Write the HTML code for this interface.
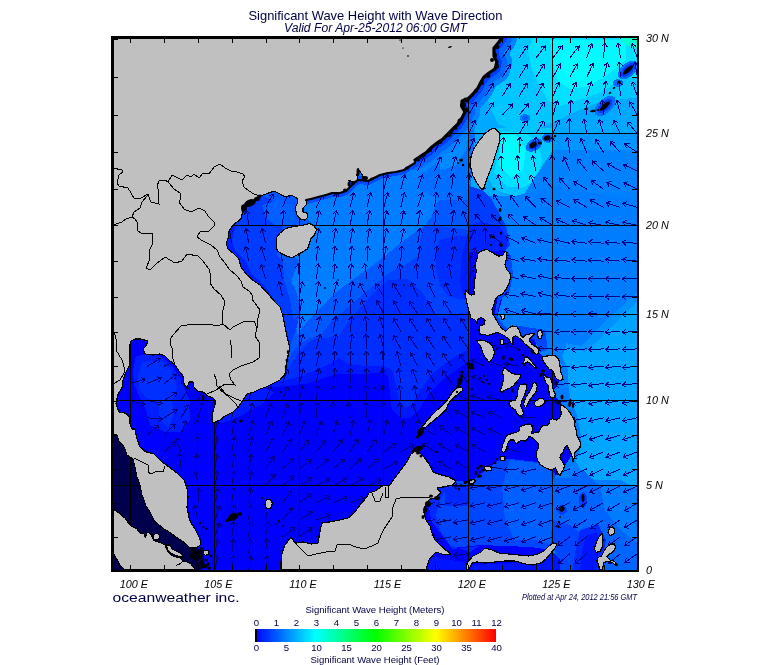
<!DOCTYPE html>
<html><head><meta charset="utf-8"><title>Significant Wave Height with Wave Direction</title><style>html,body{margin:0;padding:0;background:#fff}</style></head><body>
<svg width="775" height="665" viewBox="0 0 775 665" style="display:block">
<rect width="775" height="665" fill="#fff"/>
<defs><clipPath id="fr"><rect x="112" y="37" width="526" height="534"/></clipPath>
<linearGradient id="cb" x1="0" x2="1" y1="0" y2="0">
<stop offset="0" stop-color="#0000ff"/>
<stop offset="0.125" stop-color="#0080ff"/>
<stop offset="0.25" stop-color="#00ffff"/>
<stop offset="0.375" stop-color="#00ff80"/>
<stop offset="0.5" stop-color="#00ff00"/>
<stop offset="0.625" stop-color="#80ff00"/>
<stop offset="0.75" stop-color="#ffff00"/>
<stop offset="0.875" stop-color="#ff8000"/>
<stop offset="1" stop-color="#ff0000"/>
</linearGradient></defs>
<g clip-path="url(#fr)" shape-rendering="crispEdges">
<rect x="112" y="37" width="526" height="534" fill="rgb(0,0,255)"/>
<polygon points="268.0,388.0 285.0,386.0 305.0,384.0 325.0,378.0 335.0,374.0 349.0,374.0 365.0,374.0 383.0,372.0 388.0,376.0 390.0,392.0 392.0,410.0 400.0,418.0 410.0,418.0 420.0,408.0 430.0,392.0 445.0,378.0 462.0,366.0 470.0,360.0 470.0,120.0 220.0,120.0 220.0,392.0" fill="rgb(0,24,255)"/>
<polygon points="277.0,382.0 295.0,378.0 305.0,374.0 313.0,371.0 323.0,367.0 331.0,363.0 339.0,358.0 349.0,364.0 365.0,366.0 383.0,366.0 392.0,370.0 396.0,385.0 399.0,400.0 405.0,408.0 412.0,404.0 420.0,390.0 432.0,374.0 447.0,362.0 470.0,348.0 470.0,120.0 220.0,120.0 220.0,382.0" fill="rgb(0,46,255)"/>
<polygon points="287.0,372.0 289.0,368.0 295.0,358.0 303.0,348.0 312.0,340.0 325.0,338.0 339.0,336.0 343.0,330.0 349.7,320.0 357.4,311.0 365.0,302.0 375.6,291.0 388.0,280.0 408.0,279.0 421.0,291.0 430.0,305.0 437.0,316.0 445.0,316.0 455.0,314.0 470.0,312.0 470.0,120.0 220.0,120.0 220.0,372.0" fill="rgb(0,66,255)"/>
<polygon points="287.0,362.0 292.0,352.0 300.0,344.0 310.0,338.0 320.0,336.0 327.7,326.0 339.0,314.7 350.0,305.6 360.0,296.6 373.0,286.0 385.0,276.0 397.0,268.0 410.0,262.0 418.0,256.0 420.0,240.0 424.0,226.0 440.0,226.0 470.0,230.0 470.0,120.0 220.0,120.0 220.0,362.0" fill="rgb(0,88,255)"/>
<polygon points="298.0,196.0 420.0,150.0 475.0,125.0 475.0,185.0 440.0,200.0 436.0,203.0 432.0,216.0 423.0,227.0 410.0,236.0 397.0,246.0 385.0,256.0 368.0,269.0 352.0,280.0 339.0,290.0 328.0,300.0 317.0,311.0 308.0,320.0 300.5,330.0 298.0,336.0 295.0,322.0 290.0,310.0 290.0,289.0 293.0,276.0 299.0,260.0 292.0,256.0 305.0,250.0 312.0,232.0 316.0,226.0 310.0,222.0 306.0,216.0 300.0,210.0" fill="rgb(0,126,255)"/>
<polygon points="440.0,240.0 456.0,236.0 468.0,236.0 476.0,240.0 478.0,252.0 472.0,295.0 460.0,300.0 448.0,296.0 440.0,285.0 436.0,270.0 436.0,252.0" fill="rgb(0,46,255)"/>
<polygon points="468.0,232.0 478.0,240.0 478.0,252.0 474.0,296.0 464.0,300.0 460.0,280.0 462.0,255.0" fill="rgb(0,30,255)"/>
<polygon points="226.0,200.0 262.0,196.0 272.0,200.0 282.0,212.0 283.0,228.0 276.0,240.0 277.0,256.0 283.0,262.0 289.0,280.0 295.0,288.0 299.0,300.0 300.0,313.0 296.0,330.0 290.0,345.0 284.0,346.0 270.0,300.0 250.0,285.0 226.0,255.0" fill="rgb(0,60,255)"/>
<polygon points="283.0,262.0 289.0,280.0 295.0,288.0 299.0,300.0 300.0,313.0 294.0,320.0 290.0,300.0 284.0,280.0" fill="rgb(0,85,255)"/>
<polygon points="226.0,215.0 240.0,210.0 236.0,225.0 232.0,240.0 236.0,252.0 246.0,262.0 252.0,275.0 262.0,283.0 272.0,296.0 268.0,300.0 250.0,285.0 226.0,255.0" fill="rgb(0,30,255)"/>
<polygon points="262.0,205.0 280.0,200.0 292.0,205.0 296.0,218.0 290.0,226.0 276.0,226.0 266.0,218.0" fill="rgb(0,95,255)"/>
<polygon points="440.0,36.0 640.0,36.0 640.0,135.0 553.0,133.0 553.0,200.0 470.0,200.0 470.0,170.0 475.0,125.0 468.0,112.0 480.0,90.0 495.0,60.0 502.0,36.0" fill="rgb(0,168,255)"/>
<polygon points="420.0,150.0 445.0,132.0 462.0,112.0 470.0,118.0 475.0,135.0 472.0,165.0 470.0,200.0 440.0,200.0 420.0,190.0" fill="rgb(0,110,255)"/>
<polygon points="440.0,152.0 452.0,141.0 462.0,129.0 469.0,133.0 466.0,150.0 456.0,166.0 440.0,170.0" fill="rgb(0,138,255)"/>
<polygon points="512.0,38.0 640.0,38.0 640.0,97.0 600.0,102.0 575.0,112.0 553.0,122.0 535.0,130.0 515.0,131.0 498.0,124.0 492.0,112.0 488.0,100.0 496.0,82.0 504.0,62.0" fill="rgb(0,198,255)"/>
<polygon points="533.0,38.0 640.0,38.0 640.0,76.0 622.0,79.0 600.0,93.0 575.0,101.0 560.0,106.0 548.0,101.0 540.0,86.0 532.0,70.0 528.0,50.0" fill="rgb(0,225,255)"/>
<polygon points="550.0,40.0 626.0,40.0 626.0,60.0 610.0,73.0 590.0,86.0 570.0,89.0 558.0,81.0 553.0,62.0" fill="rgb(0,250,255)"/>
<polygon points="563.0,56.0 585.0,51.0 600.0,59.0 595.0,72.0 578.0,83.0 566.0,76.0" fill="rgb(0,255,255)"/>
<polygon points="618.0,38.0 638.0,38.0 638.0,48.0 628.0,46.0" fill="rgb(0,255,210)"/>
<polygon points="496.0,128.0 553.0,128.0 553.0,175.0 540.0,190.0 515.0,196.0 495.0,190.0 488.0,178.0 498.0,150.0" fill="rgb(0,198,255)"/>
<polygon points="498.0,132.0 522.0,132.0 537.0,140.0 542.0,160.0 537.0,180.0 522.0,188.0 506.0,186.0 494.0,172.0 499.0,150.0" fill="rgb(0,225,255)"/>
<polygon points="501.0,135.0 516.0,135.0 526.0,150.0 523.0,170.0 511.0,178.0 499.0,166.0 500.0,150.0" fill="rgb(0,252,255)"/>
<polygon points="553.0,133.0 640.0,133.0 640.0,200.0 553.0,200.0" fill="rgb(0,150,255)"/>
<polygon points="553.0,150.0 640.0,150.0 640.0,215.0 553.0,215.0 520.0,200.0" fill="rgb(0,130,255)"/>
<polygon points="478.0,196.0 515.0,196.0 540.0,190.0 553.0,186.0 640.0,200.0 640.0,572.0 553.0,572.0 553.0,480.0 557.0,472.0 562.0,470.0 572.0,455.0 577.0,440.0 572.0,420.0 565.0,408.0 556.0,397.0 553.0,392.0 560.0,380.0 556.0,370.0 545.0,358.0 538.0,352.0 535.0,340.0 520.0,333.0 505.0,331.0 497.0,318.0 503.0,295.0 510.0,275.0 505.0,245.0 495.0,240.0 480.0,225.0" fill="rgb(0,125,255)"/>
<polygon points="469.0,186.0 482.0,190.0 492.0,200.0 500.0,215.0 506.0,226.0 510.0,245.0 506.0,250.0 478.0,250.0 469.0,240.0" fill="rgb(0,60,255)"/>
<polygon points="469.0,226.0 480.0,222.0 500.0,226.0 508.0,240.0 506.0,250.0 478.0,252.0 469.0,250.0" fill="rgb(0,35,255)"/>
<polygon points="469.0,252.0 478.0,252.0 476.0,296.0 469.0,296.0" fill="rgb(0,0,255)"/>
<polygon points="505.0,250.0 511.0,256.0 513.0,275.0 510.0,290.0 500.0,300.0 497.0,316.0 506.0,328.0 520.0,326.0 545.0,330.0 548.0,350.0 540.0,352.0 535.0,340.0 520.0,336.0 505.0,334.0 494.0,318.0 498.0,296.0" fill="rgb(0,70,255)"/>
<polygon points="640.0,298.0 605.0,334.0 585.0,352.0 566.0,347.0 562.0,356.0 568.0,370.0 567.5,378.0 570.0,397.0 577.0,415.0 581.0,435.0 580.0,452.0 575.0,460.0 581.0,470.0 595.0,480.0 620.0,480.0 640.0,490.0" fill="rgb(0,165,255)"/>
<polygon points="640.0,290.0 600.0,326.0 582.0,346.0 566.0,343.0 566.0,347.0 585.0,352.0 605.0,334.0 640.0,298.0" fill="rgb(0,145,255)"/>
<polygon points="553.0,478.0 572.0,478.0 584.0,470.0 590.0,478.0 600.0,485.0 640.0,500.0 640.0,572.0 600.0,572.0 590.0,540.0 570.0,525.0 553.0,520.0" fill="rgb(0,100,255)"/>
<polygon points="441.0,483.0 456.0,481.0 470.0,482.0 502.0,458.0 537.0,462.0 545.0,468.0 557.0,474.0 553.0,480.0 553.0,520.0 570.0,525.0 590.0,540.0 596.0,572.0 553.0,572.0 556.0,545.0 545.0,549.0 530.0,547.0 480.0,545.0 452.0,548.0 432.0,522.0 428.0,502.0" fill="rgb(0,70,255)"/>
<polygon points="502.0,486.0 510.0,460.0 537.0,463.0 551.0,472.0 553.0,490.0 551.0,544.0 535.0,540.0 515.0,540.0 505.0,520.0" fill="rgb(0,95,255)"/>
<polygon points="428.0,500.0 441.0,483.0 448.0,486.0 440.0,500.0 436.0,515.0 440.0,530.0 450.0,545.0 470.0,552.0 480.0,546.0 452.0,549.0 432.0,522.0" fill="rgb(0,40,255)"/>
<polygon points="430.0,556.0 467.0,563.0 469.0,572.0 426.0,572.0" fill="rgb(0,20,255)"/>
<polygon points="472.0,565.0 545.0,562.0 553.0,552.0 560.0,560.0 560.0,572.0 470.0,572.0" fill="rgb(0,20,255)"/>
<polygon points="580.0,530.0 598.0,524.0 606.0,540.0 600.0,572.0 572.0,572.0 576.0,548.0" fill="rgb(0,40,255)"/>
<polygon points="586.0,536.0 597.0,532.0 600.0,545.0 596.0,572.0 580.0,572.0 582.0,550.0" fill="rgb(0,20,255)"/>
<polygon points="600.0,485.0 640.0,495.0 640.0,545.0 620.0,530.0 605.0,510.0" fill="rgb(0,125,255)"/>
<polygon points="445.0,488.0 470.0,484.0 470.0,506.0 445.0,506.0" fill="rgb(0,40,255)"/>
<polygon points="136.0,356.0 150.0,354.0 162.0,357.0 172.0,366.0 180.0,378.0 186.0,392.0 190.0,402.0 190.0,420.0 180.0,432.0 165.0,432.0 150.0,425.0 146.0,410.0 140.0,398.0 134.0,385.0 133.0,370.0" fill="rgb(0,30,255)"/>
<polygon points="142.0,362.0 160.0,360.0 172.0,372.0 177.0,388.0 172.0,400.0 174.0,415.0 168.0,428.0 160.0,420.0 158.0,402.0 146.0,398.0 139.0,388.0 138.0,375.0" fill="rgb(0,48,255)"/>
<polygon points="214.0,402.0 240.0,398.0 262.0,388.0 275.0,392.0 262.0,404.0 240.0,416.0 220.0,424.0" fill="rgb(0,25,255)"/>
<polygon points="614.7,97.3 615.7,100.4 614.7,104.6 611.7,109.1 607.4,113.0 602.6,115.5 598.3,116.1 595.3,114.7 594.3,111.6 595.3,107.4 598.3,102.9 602.6,99.0 607.4,96.5 611.7,95.9" fill="rgb(0,110,255)"/>
<polygon points="611.7,100.0 612.3,102.0 611.5,104.9 609.4,107.9 606.4,110.6 603.2,112.4 600.3,112.9 598.3,112.0 597.7,110.0 598.5,107.1 600.6,104.1 603.6,101.4 606.8,99.6 609.7,99.1" fill="rgb(0,60,255)"/>
<polygon points="636.9,62.0 638.1,65.0 637.2,69.1 634.6,73.3 630.6,76.9 626.1,79.1 622.0,79.5 619.1,78.0 617.9,75.0 618.8,70.9 621.4,66.7 625.4,63.1 629.9,60.9 634.0,60.5" fill="rgb(0,110,255)"/>
<polygon points="634.7,64.0 635.3,66.0 634.5,68.9 632.4,71.9 629.4,74.6 626.2,76.4 623.3,76.9 621.3,76.0 620.7,74.0 621.5,71.1 623.6,68.1 626.6,65.4 629.8,63.6 632.7,63.1" fill="rgb(0,60,255)"/>
<polygon points="623.0,83.0 622.5,84.7 621.1,86.1 619.1,86.9 616.9,86.9 614.9,86.1 613.5,84.7 613.0,83.0 613.5,81.3 614.9,79.9 616.9,79.1 619.1,79.1 621.1,79.9 622.5,81.3" fill="rgb(0,110,255)"/>
<polygon points="541.8,140.5 542.3,143.2 541.2,146.3 538.7,149.1 535.2,151.1 531.5,151.9 528.3,151.3 526.2,149.5 525.7,146.8 526.8,143.7 529.3,140.9 532.8,138.9 536.5,138.1 539.7,138.7" fill="rgb(0,110,255)"/>
<polygon points="539.2,142.0 539.5,143.8 538.8,145.8 537.1,147.7 534.8,149.0 532.3,149.6 530.2,149.2 528.8,148.0 528.5,146.2 529.2,144.2 530.9,142.3 533.2,141.0 535.7,140.4 537.8,140.8" fill="rgb(0,60,255)"/>
<polygon points="554.0,138.0 553.4,140.2 551.7,141.9 549.3,142.9 546.7,142.9 544.3,141.9 542.6,140.2 542.0,138.0 542.6,135.8 544.3,134.1 546.7,133.1 549.3,133.1 551.7,134.1 553.4,135.8" fill="rgb(0,110,255)"/>
<polygon points="552.0,138.0 551.6,139.3 550.5,140.3 548.9,140.9 547.1,140.9 545.5,140.3 544.4,139.3 544.0,138.0 544.4,136.7 545.5,135.7 547.1,135.1 548.9,135.1 550.5,135.7 551.6,136.7" fill="rgb(0,70,255)"/>
<polygon points="530.0,118.0 529.5,119.7 528.1,121.1 526.1,121.9 523.9,121.9 521.9,121.1 520.5,119.7 520.0,118.0 520.5,116.3 521.9,114.9 523.9,114.1 526.1,114.1 528.1,114.9 529.5,116.3" fill="rgb(0,120,255)"/>
<polygon points="528.0,118.0 527.7,119.1 526.9,120.0 525.7,120.4 524.3,120.4 523.1,120.0 522.3,119.1 522.0,118.0 522.3,116.9 523.1,116.0 524.3,115.6 525.7,115.6 526.9,116.0 527.7,116.9" fill="rgb(0,90,255)"/>
<polygon points="587.0,500.0 586.6,503.5 585.5,506.3 583.9,507.8 582.1,507.8 580.5,506.3 579.4,503.5 579.0,500.0 579.4,496.5 580.5,493.7 582.1,492.2 583.9,492.2 585.5,493.7 586.6,496.5" fill="rgb(0,60,255)"/>
<polygon points="567.0,510.0 566.5,512.2 565.1,513.9 563.1,514.9 560.9,514.9 558.9,513.9 557.5,512.2 557.0,510.0 557.5,507.8 558.9,506.1 560.9,505.1 563.1,505.1 565.1,506.1 566.5,507.8" fill="rgb(0,60,255)"/>
<polyline points="502.0,38.0 499.0,42.0 494.0,48.0 494.0,56.0 497.0,62.0 495.0,69.0 489.0,73.0 484.0,77.0 481.0,82.0 478.0,88.0 473.0,94.0 468.0,99.0 462.0,101.0 462.0,107.0 465.0,112.0 462.0,118.0 458.0,124.0 453.0,129.0 448.0,134.0 443.0,139.0 437.0,143.0 432.0,147.0 427.0,152.0 421.0,156.0 415.0,160.0" fill="none" stroke="rgb(0,130,255)" stroke-width="30" stroke-linejoin="round" stroke-linecap="round"/>
<polyline points="502.0,38.0 499.0,42.0 494.0,48.0 494.0,56.0 497.0,62.0 495.0,69.0 489.0,73.0 484.0,77.0 481.0,82.0 478.0,88.0 473.0,94.0 468.0,99.0 462.0,101.0 462.0,107.0 465.0,112.0 462.0,118.0 458.0,124.0 453.0,129.0 448.0,134.0 443.0,139.0 437.0,143.0 432.0,147.0 427.0,152.0 421.0,156.0 415.0,160.0" fill="none" stroke="rgb(0,100,255)" stroke-width="20" stroke-linejoin="round" stroke-linecap="round"/>
<polyline points="502.0,38.0 499.0,42.0 494.0,48.0 494.0,56.0 497.0,62.0 495.0,69.0 489.0,73.0 484.0,77.0 481.0,82.0 478.0,88.0 473.0,94.0 468.0,99.0 462.0,101.0 462.0,107.0 465.0,112.0 462.0,118.0 458.0,124.0 453.0,129.0 448.0,134.0 443.0,139.0 437.0,143.0 432.0,147.0 427.0,152.0 421.0,156.0 415.0,160.0" fill="none" stroke="rgb(0,60,255)" stroke-width="10" stroke-linejoin="round" stroke-linecap="round"/>
<polyline points="415.0,163.0 410.0,166.0 404.0,170.0 396.0,172.0 388.0,173.0 380.0,175.0 374.0,178.0 368.0,181.0 358.0,180.0 354.0,183.0 350.0,187.0 346.0,191.0 340.0,193.0 332.0,193.0 326.0,195.0 318.0,197.0 311.0,199.0 306.0,200.0" fill="none" stroke="rgb(0,75,255)" stroke-width="8" stroke-linejoin="round" stroke-linecap="round"/>
<polygon points="113.0,430.0 125.0,438.0 132.0,450.0 140.0,462.0 145.0,480.0 150.0,497.0 157.0,512.0 165.0,526.0 177.0,534.0 189.0,543.0 199.0,549.0 204.0,548.0 204.0,560.0 201.0,572.0 150.0,572.0 150.0,545.0 130.0,530.0 113.0,515.0" fill="#00004c"/>
<polygon points="111.0,550.0 116.0,558.0 120.0,565.0 126.0,572.0 111.0,572.0" fill="#00004c"/>
</g>
<g clip-path="url(#fr)">
<path d="M130.4 400.6L145.1 404.3M142.1 400.6L145.1 404.3L140.7 406.1M130.4 383.4L145.0 379.2M140.5 377.6L145.0 379.2L142.1 383.0M147.3 434.9L159.0 425.1M154.2 425.4L159.0 425.1L157.8 429.8M147.3 417.8L162.5 419.0M158.8 415.9L162.5 419.0L158.4 421.5M147.3 400.6L162.3 403.2M158.9 399.8L162.3 403.2L158.0 405.3M147.3 383.4L161.4 377.7M156.7 376.6L161.4 377.7L158.8 381.8M147.3 366.2L160.4 358.5M155.7 358.1L160.4 358.5L158.5 362.9M164.2 451.9L175.6 441.8M170.8 442.3L175.6 441.8L174.5 446.5M164.2 434.9L175.1 424.2M170.3 424.9L175.1 424.2L174.3 429.0M164.2 417.8L177.1 409.7M172.3 409.4L177.1 409.7L175.3 414.2M164.2 400.6L176.9 392.3M172.1 392.1L176.9 392.3L175.2 396.8M164.2 383.4L176.4 374.3M171.6 374.4L176.4 374.3L174.9 378.9M164.2 366.2L177.9 359.6M173.2 358.7L177.9 359.6L175.6 363.8M181.1 468.9L179.4 453.8M177.0 458.0L179.4 453.8L182.6 457.3M181.1 451.9L175.6 437.7M174.4 442.4L175.6 437.7L179.7 440.3M181.1 434.9L185.8 420.4M181.9 423.2L185.8 420.4L187.3 425.0M181.1 417.8L188.9 404.7M184.4 406.6L188.9 404.7L189.3 409.5M181.1 400.6L189.1 387.7M184.7 389.5L189.1 387.7L189.5 392.5M181.1 383.4L190.8 371.8M186.2 372.9L190.8 371.8L190.5 376.5M198.0 519.8L194.3 505.0M192.5 509.5L194.3 505.0L197.9 508.1M198.0 502.8L198.7 487.7M195.7 491.4L198.7 487.7L201.3 491.7M198.0 485.9L195.7 470.9M193.5 475.1L195.7 470.9L199.1 474.3M198.0 468.9L196.7 453.8M194.2 457.9L196.7 453.8L199.8 457.4M198.0 451.9L197.4 436.7M194.7 440.7L197.4 436.7L200.4 440.5M198.0 434.9L197.4 419.7M194.7 423.7L197.4 419.7L200.4 423.4M198.0 417.8L202.5 403.3M198.7 406.1L202.5 403.3L204.0 407.8M198.0 400.6L204.2 386.8M200.1 389.2L204.2 386.8L205.2 391.5M214.9 570.5L217.4 555.5M214.0 558.9L217.4 555.5L219.5 559.8M214.9 553.6L217.5 538.6M214.1 542.0L217.5 538.6L219.6 542.9M214.9 536.7L219.8 522.3M215.8 525.1L219.8 522.3L221.2 526.9M214.9 519.8L219.8 505.4M215.9 508.2L219.8 505.4L221.2 510.0M214.9 502.8L218.8 488.2M215.1 491.2L218.8 488.2L220.5 492.6M214.9 485.9L217.7 471.0M214.2 474.3L217.7 471.0L219.7 475.3M214.9 468.9L217.0 453.9M213.7 457.3L217.0 453.9L219.3 458.1M214.9 451.9L216.9 436.8M213.6 440.3L216.9 436.8L219.2 441.1M214.9 434.9L217.0 419.8M213.7 423.3L217.0 419.8L219.3 424.0M231.8 570.5L233.8 555.4M230.5 558.9L233.8 555.4L236.1 559.7M231.8 553.6L233.2 538.5M230.0 542.1L233.2 538.5L235.7 542.6M231.8 536.7L233.9 521.6M230.6 525.1L233.9 521.6L236.2 525.9M231.8 519.8L234.0 504.7M230.7 508.2L234.0 504.7L236.3 509.0M231.8 502.8L234.0 487.8M230.7 491.2L234.0 487.8L236.2 492.1M231.8 485.9L234.0 470.9M230.6 474.3L234.0 470.9L236.2 475.1M231.8 468.9L234.4 453.9M231.0 457.3L234.4 453.9L236.5 458.3M231.8 451.9L234.5 436.9M231.0 440.3L234.5 436.9L236.6 441.3M231.8 434.9L234.6 419.9M231.1 423.2L234.6 419.9L236.6 424.2M231.8 417.8L235.1 402.9M231.5 406.1L235.1 402.9L237.0 407.3M231.8 243.3L229.2 228.4M227.1 232.7L229.2 228.4L232.6 231.7M248.7 570.5L250.7 555.4M247.4 558.9L250.7 555.4L253.0 559.6M248.7 553.6L250.1 538.5M246.9 542.1L250.1 538.5L252.5 542.6M248.7 536.7L250.1 521.6M247.0 525.2L250.1 521.6L252.6 525.7M248.7 519.8L250.2 504.6M247.0 508.2L250.2 504.6L252.6 508.8M248.7 502.8L250.9 487.8M247.5 491.2L250.9 487.8L253.1 492.0M248.7 485.9L251.4 470.9M248.0 474.3L251.4 470.9L253.5 475.3M248.7 468.9L251.5 454.0M248.0 457.3L251.5 454.0L253.6 458.3M248.7 451.9L251.9 437.1M248.4 440.2L251.9 437.1L253.9 441.5M248.7 434.9L253.2 420.3M249.4 423.2L253.2 420.3L254.8 424.9M248.7 417.8L252.7 403.1M249.0 406.1L252.7 403.1L254.4 407.6M248.7 400.6L252.8 386.0M249.0 389.0L252.8 386.0L254.5 390.5M248.7 261.2L245.5 246.3M243.6 250.7L245.5 246.3L249.1 249.5M248.7 243.3L246.0 228.4M243.9 232.7L246.0 228.4L249.5 231.7M248.7 225.4L246.6 210.4M244.4 214.6L246.6 210.4L250.0 213.8M248.7 207.4L253.2 192.9M249.3 195.7L253.2 192.9L254.7 197.4M265.6 570.5L267.9 555.5M264.6 558.9L267.9 555.5L270.1 559.8M265.6 553.6L267.0 538.5M263.8 542.1L267.0 538.5L269.5 542.6M265.6 536.7L268.2 521.7M264.8 525.1L268.2 521.7L270.3 526.0M265.6 519.8L268.4 504.8M264.9 508.1L268.4 504.8L270.5 509.2M265.6 485.9L275.1 474.0M270.4 475.3L275.1 474.0L274.8 478.8M265.6 468.9L274.1 456.3M269.6 458.0L274.1 456.3L274.3 461.1M265.6 451.9L273.0 438.6M268.7 440.6L273.0 438.6L273.6 443.4M265.6 434.9L272.0 421.1M267.8 423.4L272.0 421.1L272.9 425.8M265.6 417.8L270.9 403.5M266.9 406.2L270.9 403.5L272.2 408.1M265.6 400.6L271.0 386.4M267.0 389.1L271.0 386.4L272.3 391.1M265.6 278.9L261.1 264.4M259.6 268.9L261.1 264.4L265.0 267.2M265.6 261.2L261.2 246.6M259.6 251.2L261.2 246.6L265.0 249.5M265.6 243.3L261.9 228.6M260.1 233.0L261.9 228.6L265.6 231.7M265.6 225.4L266.5 210.2M263.5 214.0L266.5 210.2L269.1 214.3M265.6 207.4L273.0 194.1M268.6 196.1L273.0 194.1L273.6 198.9M282.5 536.7L294.9 527.9M290.1 527.9L294.9 527.9L293.4 532.5M282.5 519.8L292.2 508.1M287.6 509.3L292.2 508.1L291.9 512.9M282.5 502.8L291.8 490.8M287.2 492.2L291.8 490.8L291.6 495.6M282.5 485.9L293.8 475.8M289.0 476.2L293.8 475.8L292.8 480.4M282.5 468.9L293.7 458.7M289.0 459.2L293.7 458.7L292.8 463.4M282.5 451.9L291.4 439.6M286.8 441.1L291.4 439.6L291.4 444.4M282.5 434.9L289.7 421.5M285.4 423.5L289.7 421.5L290.3 426.2M282.5 417.8L287.6 403.4M283.6 406.2L287.6 403.4L288.9 408.0M282.5 400.6L287.9 386.4M283.9 389.1L287.9 386.4L289.2 391.1M282.5 383.4L287.6 369.1M283.7 371.8L287.6 369.1L289.0 373.7M282.5 296.5L278.9 281.7M277.1 286.2L278.9 281.7L282.6 284.9M282.5 278.9L279.2 264.1M277.3 268.5L279.2 264.1L282.8 267.2M282.5 261.2L279.7 246.2M277.6 250.6L279.7 246.2L283.2 249.5M282.5 225.4L283.8 210.3M280.7 213.9L283.8 210.3L286.3 214.4M282.5 207.4L288.2 193.3M284.2 195.8L288.2 193.3L289.4 198.0M299.4 536.7L311.9 528.0M307.1 527.9L311.9 528.0L310.3 532.5M299.4 519.8L312.4 511.9M307.6 511.5L312.4 511.9L310.5 516.3M299.4 502.8L311.6 493.8M306.8 493.9L311.6 493.8L310.2 498.4M299.4 485.9L312.2 477.6M307.4 477.4L312.2 477.6L310.4 482.1M299.4 468.9L311.3 459.5M306.5 459.7L311.3 459.5L310.0 464.1M299.4 451.9L308.6 439.8M304.0 441.2L308.6 439.8L308.5 444.6M299.4 434.9L305.3 420.9M301.2 423.3L305.3 420.9L306.4 425.5M299.4 417.8L301.9 402.8M298.4 406.1L301.9 402.8L304.0 407.1M299.4 400.6L302.7 385.8M299.1 389.0L302.7 385.8L304.6 390.2M299.4 383.4L303.4 368.8M299.7 371.8L303.4 368.8L305.1 373.3M299.4 366.2L303.5 351.6M299.7 354.5L303.5 351.6L305.2 356.1M299.4 348.9L302.9 334.1M299.3 337.2L302.9 334.1L304.8 338.5M299.4 331.5L302.4 316.6M298.9 319.9L302.4 316.6L304.4 321.0M299.4 314.1L302.0 299.1M298.5 302.4L302.0 299.1L304.1 303.4M299.4 296.5L302.4 281.6M298.9 284.9L302.4 281.6L304.4 286.0M299.4 278.9L298.3 263.7M295.7 267.8L298.3 263.7L301.4 267.4M299.4 261.2L298.2 246.0M295.7 250.1L298.2 246.0L301.4 249.7M316.3 536.7L329.5 529.1M324.7 528.6L329.5 529.1L327.5 533.5M316.3 519.8L330.8 515.2M326.2 513.7L330.8 515.2L327.9 519.0M316.3 502.8L330.0 496.2M325.3 495.4L330.0 496.2L327.7 500.5M316.3 485.9L329.6 478.5M324.8 477.9L329.6 478.5L327.6 482.9M316.3 468.9L328.4 459.7M323.6 459.8L328.4 459.7L327.0 464.3M316.3 451.9L325.9 440.1M321.3 441.3L325.9 440.1L325.6 444.9M316.3 434.9L321.7 420.7M317.7 423.3L321.7 420.7L323.0 425.3M316.3 417.8L317.4 402.6M314.3 406.3L317.4 402.6L319.9 406.7M316.3 400.6L317.9 385.5M314.7 389.1L317.9 385.5L320.3 389.7M316.3 383.4L319.0 368.5M315.5 371.8L319.0 368.5L321.1 372.8M316.3 366.2L319.4 351.3M315.8 354.5L319.4 351.3L321.3 355.7M316.3 348.9L320.1 334.2M316.4 337.2L320.1 334.2L321.9 338.7M316.3 331.5L320.1 316.8M316.4 319.8L320.1 316.8L321.9 321.3M316.3 314.1L318.9 299.1M315.5 302.4L318.9 299.1L321.0 303.4M316.3 296.5L318.8 281.5M315.4 284.9L318.8 281.5L320.9 285.8M316.3 278.9L318.4 263.8M315.0 267.3L318.4 263.8L320.6 268.1M316.3 261.2L317.9 246.1M314.7 249.6L317.9 246.1L320.3 250.2M316.3 243.3L318.9 228.4M315.5 231.7L318.9 228.4L321.0 232.7M316.3 225.4L319.3 210.5M315.8 213.8L319.3 210.5L321.3 214.9M316.3 207.4L323.3 193.9M319.0 196.0L323.3 193.9L324.0 198.6M333.2 502.8L347.2 497.0M342.5 495.9L347.2 497.0L344.7 501.1M333.2 485.9L346.4 478.4M341.7 477.9L346.4 478.4L344.4 482.8M333.2 468.9L344.8 459.1M340.0 459.5L344.8 459.1L343.7 463.8M333.2 451.9L342.3 439.7M337.7 441.2L342.3 439.7L342.2 444.5M333.2 434.9L337.5 420.3M333.7 423.2L337.5 420.3L339.1 424.8M333.2 417.8L333.0 402.6M330.2 406.5L333.0 402.6L335.9 406.4M333.2 400.6L333.4 385.4M330.5 389.3L333.4 385.4L336.1 389.3M333.2 383.4L335.2 368.4M331.9 371.9L335.2 368.4L337.5 372.6M333.2 366.2L335.2 351.1M331.9 354.6L335.2 351.1L337.5 355.4M333.2 348.9L336.1 334.0M332.6 337.2L336.1 334.0L338.2 338.3M333.2 331.5L336.1 316.6M332.6 319.9L336.1 316.6L338.1 320.9M333.2 314.1L336.1 299.1M332.6 302.4L336.1 299.1L338.1 303.5M333.2 296.5L336.8 281.7M333.1 284.9L336.8 281.7L338.6 286.2M333.2 278.9L335.0 263.8M331.7 267.3L335.0 263.8L337.3 268.0M333.2 261.2L335.0 246.1M331.7 249.6L335.0 246.1L337.4 250.3M333.2 243.3L335.7 228.3M332.2 231.7L335.7 228.3L337.8 232.6M333.2 225.4L336.5 210.6M332.9 213.8L336.5 210.6L338.4 215.0M333.2 207.4L337.4 192.8M333.6 195.7L337.4 192.8L339.0 197.3M350.1 502.8L364.4 497.8M359.8 496.4L364.4 497.8L361.7 501.8M350.1 485.9L363.2 478.2M358.4 477.7L363.2 478.2L361.3 482.6M350.1 468.9L361.2 458.6M356.5 459.1L361.2 458.6L360.3 463.3M350.1 451.9L358.0 438.9M353.6 440.8L358.0 438.9L358.4 443.7M350.1 434.9L353.6 420.1M350.0 423.2L353.6 420.1L355.5 424.5M350.1 417.8L348.7 402.6M346.2 406.8L348.7 402.6L351.9 406.2M350.1 400.6L349.2 385.5M346.6 389.5L349.2 385.5L352.3 389.2M350.1 383.4L350.6 368.3M347.7 372.0L350.6 368.3L353.3 372.2M350.1 366.2L350.8 351.0M347.8 354.8L350.8 351.0L353.4 355.0M350.1 348.9L352.0 333.8M348.7 337.3L352.0 333.8L354.3 338.0M350.1 331.5L352.0 316.4M348.7 319.9L352.0 316.4L354.3 320.6M350.1 314.1L351.1 298.9M348.1 302.6L351.1 298.9L353.7 303.0M350.1 296.5L352.5 281.5M349.1 284.9L352.5 281.5L354.7 285.8M350.1 278.9L351.4 263.7M348.2 267.4L351.4 263.7L353.9 267.9M350.1 261.2L352.2 246.1M348.9 249.6L352.2 246.1L354.4 250.3M350.1 243.3L352.6 228.3M349.2 231.7L352.6 228.3L354.7 232.6M350.1 225.4L352.9 210.5M349.4 213.8L352.9 210.5L355.0 214.8M350.1 207.4L354.0 192.7M350.3 195.7L354.0 192.7L355.7 197.2M367.0 485.9L380.7 479.3M376.0 478.4L380.7 479.3L378.4 483.5M367.0 468.9L378.8 459.3M374.0 459.6L378.8 459.3L377.5 463.9M367.0 451.9L376.0 439.6M371.4 441.1L376.0 439.6L376.0 444.4M367.0 434.9L370.6 420.1M366.9 423.2L370.6 420.1L372.4 424.5M367.0 417.8L365.4 402.7M363.0 406.8L365.4 402.7L368.6 406.2M367.0 400.6L365.4 385.5M363.0 389.7L365.4 385.5L368.6 389.1M367.0 383.4L366.6 368.3M363.9 372.2L366.6 368.3L369.5 372.1M367.0 366.2L366.2 351.0M363.6 355.1L366.2 351.0L369.2 354.7M367.0 348.9L365.7 333.7M363.2 337.9L365.7 333.7L368.9 337.4M367.0 331.5L365.6 316.4M363.2 320.5L365.6 316.4L368.8 320.0M367.0 314.1L361.5 299.9M360.3 304.5L361.5 299.9L365.5 302.5M367.0 296.5L359.3 283.4M358.8 288.2L359.3 283.4L363.7 285.3M367.0 278.9L364.8 263.9M362.5 268.1L364.8 263.9L368.1 267.3M367.0 261.2L367.8 246.0M364.8 249.7L367.8 246.0L370.4 250.0M367.0 243.3L369.5 228.4M366.1 231.7L369.5 228.4L371.7 232.7M367.0 225.4L369.6 210.4M366.2 213.8L369.6 210.4L371.7 214.7M367.0 207.4L370.7 192.6M367.0 195.7L370.7 192.6L372.5 197.1M367.0 189.2L370.8 174.5M367.1 177.5L370.8 174.5L372.6 179.0M383.9 468.9L397.4 461.9M392.6 461.2L397.4 461.9L395.2 466.2M383.9 451.9L396.2 443.0M391.4 443.0L396.2 443.0L394.7 447.6M383.9 434.9L387.4 420.1M383.8 423.2L387.4 420.1L389.2 424.5M383.9 417.8L383.1 402.6M380.5 406.6L383.1 402.6L386.2 406.3M383.9 400.6L382.6 385.5M380.2 389.6L382.6 385.5L385.8 389.1M383.9 383.4L382.6 368.3M380.1 372.4L382.6 368.3L385.7 371.9M383.9 366.2L381.7 351.2M379.4 355.4L381.7 351.2L385.0 354.6M383.9 348.9L380.0 334.2M378.3 338.7L380.0 334.2L383.7 337.2M383.9 331.5L379.9 316.8M378.2 321.3L379.9 316.8L383.7 319.8M383.9 314.1L376.8 300.6M376.1 305.4L376.8 300.6L381.1 302.7M383.9 296.5L375.4 283.9M375.3 288.7L375.4 283.9L379.9 285.5M383.9 278.9L380.1 264.2M378.3 268.6L380.1 264.2L383.8 267.2M383.9 261.2L385.9 246.1M382.6 249.6L385.9 246.1L388.2 250.3M383.9 243.3L386.5 228.4M383.1 231.7L386.5 228.4L388.6 232.7M383.9 225.4L386.6 210.5M383.1 213.8L386.6 210.5L388.7 214.8M383.9 207.4L387.8 192.7M384.1 195.7L387.8 192.7L389.5 197.2M383.9 189.2L387.8 174.5M384.1 177.5L387.8 174.5L389.5 179.0M400.8 451.9L414.0 444.4M409.2 443.8L414.0 444.4L412.0 448.7M400.8 434.9L403.2 419.9M399.8 423.2L403.2 419.9L405.4 424.1M400.8 417.8L399.9 402.6M397.3 406.6L399.9 402.6L402.9 406.3M400.8 400.6L399.7 385.5M397.1 389.6L399.7 385.5L402.8 389.1M400.8 383.4L398.7 368.4M396.4 372.6L398.7 368.4L402.0 371.8M400.8 366.2L397.0 351.5M395.2 355.9L397.0 351.5L400.7 354.5M400.8 348.9L393.6 335.5M392.9 340.3L393.6 335.5L397.9 337.6M400.8 331.5L393.5 318.2M392.9 322.9L393.5 318.2L397.9 320.2M400.8 314.1L393.5 300.7M392.9 305.5L393.5 300.7L397.9 302.8M400.8 296.5L393.0 283.5M392.6 288.3L393.0 283.5L397.4 285.4M400.8 278.9L399.6 263.7M397.1 267.8L399.6 263.7L402.7 267.4M400.8 261.2L401.9 246.0M398.8 249.7L401.9 246.0L404.5 250.1M400.8 243.3L403.9 228.5M400.4 231.7L403.9 228.5L405.9 232.8M400.8 225.4L403.6 210.5M400.1 213.8L403.6 210.5L405.7 214.8M400.8 207.4L404.4 192.6M400.8 195.7L404.4 192.6L406.3 197.1M400.8 189.2L404.8 174.6M401.1 177.6L404.8 174.6L406.5 179.0M417.7 434.9L418.1 419.7M415.2 423.5L418.1 419.7L420.8 423.6M417.7 417.8L412.6 403.5M411.2 408.1L412.6 403.5L416.5 406.2M417.7 400.6L414.2 385.9M412.3 390.3L414.2 385.9L417.8 389.0M417.7 383.4L412.3 369.2M411.1 373.9L412.3 369.2L416.4 371.9M417.7 366.2L410.6 352.8M409.9 357.5L410.6 352.8L414.9 354.9M417.7 348.9L409.0 336.4M408.9 341.2L409.0 336.4L413.5 338.0M417.7 331.5L409.6 318.6M409.3 323.4L409.6 318.6L414.1 320.4M417.7 314.1L409.2 301.5M409.0 306.3L409.2 301.5L413.7 303.1M417.7 296.5L411.4 282.7M410.4 287.4L411.4 282.7L415.6 285.0M417.7 278.9L416.4 263.7M413.9 267.9L416.4 263.7L419.5 267.4M417.7 261.2L420.2 246.2M416.8 249.5L420.2 246.2L422.4 250.5M417.7 243.3L420.3 228.4M416.9 231.7L420.3 228.4L422.4 232.7M417.7 225.4L420.2 210.4M416.7 213.8L420.2 210.4L422.3 214.7M417.7 207.4L422.3 192.9M418.4 195.7L422.3 192.9L423.8 197.4M417.7 189.2L422.4 174.8M418.5 177.6L422.4 174.8L423.9 179.3M417.7 170.9L423.8 157.0M419.6 159.4L423.8 157.0L424.8 161.7M434.6 570.5L419.5 569.2M423.1 572.3L419.5 569.2L423.6 566.7M434.6 519.8L419.6 522.2M423.9 524.4L419.6 522.2L423.0 518.8M434.6 502.8L419.5 504.5M423.7 506.9L419.5 504.5L423.0 501.3M434.6 468.9L421.5 461.3M423.4 465.7L421.5 461.3L426.2 460.8M434.6 451.9L422.1 443.2M423.7 447.7L422.1 443.2L426.9 443.1M434.6 434.9L421.8 426.7M423.5 431.2L421.8 426.7L426.5 426.4M434.6 400.6L427.7 387.1M426.9 391.8L427.7 387.1L432.0 389.3M434.6 383.4L427.5 370.0M426.8 374.8L427.5 370.0L431.8 372.1M434.6 366.2L426.8 353.1M426.4 357.9L426.8 353.1L431.2 355.0M434.6 348.9L426.2 336.2M426.0 341.0L426.2 336.2L430.7 337.9M434.6 331.5L426.8 318.4M426.4 323.2L426.8 318.4L431.2 320.3M434.6 314.1L427.5 300.6M426.8 305.4L427.5 300.6L431.8 302.7M434.6 296.5L428.3 282.7M427.4 287.4L428.3 282.7L432.5 285.0M434.6 278.9L432.0 263.9M429.9 268.2L432.0 263.9L435.5 267.3M434.6 261.2L437.2 246.2M433.7 249.5L437.2 246.2L439.3 250.5M434.6 243.3L436.9 228.3M433.5 231.7L436.9 228.3L439.1 232.6M434.6 225.4L436.3 210.3M433.0 213.9L436.3 210.3L438.7 214.5M434.6 207.4L436.3 192.3M433.1 195.8L436.3 192.3L438.7 196.5M434.6 189.2L438.9 174.6M435.1 177.6L438.9 174.6L440.5 179.2M434.6 170.9L441.0 157.1M436.8 159.5L441.0 157.1L441.9 161.8M434.6 152.5L441.2 138.8M437.0 141.1L441.2 138.8L442.1 143.5M451.5 570.5L436.3 571.3M440.4 573.9L436.3 571.3L440.0 568.3M451.5 536.7L436.6 539.8M441.0 541.8L436.6 539.8L439.8 536.3M451.5 519.8L436.6 522.8M441.0 524.8L436.6 522.8L439.8 519.3M451.5 502.8L436.5 505.5M440.8 507.6L436.5 505.5L439.9 502.0M451.5 468.9L438.2 461.5M440.2 465.9L438.2 461.5L443.0 461.0M451.5 451.9L438.6 443.9M440.4 448.3L438.6 443.9L443.4 443.5M451.5 434.9L439.2 425.9M440.7 430.5L439.2 425.9L444.0 425.9M451.5 417.8L442.7 405.4M442.6 410.2L442.7 405.4L447.2 406.9M451.5 383.4L442.8 371.0M442.7 375.8L442.8 371.0L447.4 372.5M451.5 366.2L442.9 353.7M442.8 358.5L442.9 353.7L447.4 355.3M451.5 348.9L442.8 336.4M442.7 341.2L442.8 336.4L447.3 338.0M451.5 331.5L443.6 318.5M443.2 323.3L443.6 318.5L448.0 320.4M451.5 314.1L443.6 301.0M443.2 305.8L443.6 301.0L448.1 302.9M451.5 296.5L445.2 282.7M444.2 287.4L445.2 282.7L449.4 285.0M451.5 278.9L448.9 263.9M446.8 268.2L448.9 263.9L452.4 267.3M451.5 261.2L454.6 246.3M451.0 249.5L454.6 246.3L456.6 250.7M451.5 243.3L454.1 228.4M450.7 231.7L454.1 228.4L456.2 232.7M451.5 225.4L454.0 210.4M450.6 213.8L454.0 210.4L456.1 214.7M451.5 207.4L449.4 192.3M447.2 196.5L449.4 192.3L452.8 195.8M451.5 189.2L453.4 174.1M450.1 177.6L453.4 174.1L455.7 178.3M451.5 170.9L455.7 156.3M451.9 159.3L455.7 156.3L457.3 160.8M451.5 152.5L458.6 139.1M454.3 141.2L458.6 139.1L459.3 143.8M451.5 133.9L458.4 120.4M454.1 122.6L458.4 120.4L459.2 125.1M468.4 553.6L453.4 556.2M457.7 558.3L453.4 556.2L456.8 552.8M468.4 536.7L453.5 539.7M457.8 541.7L453.5 539.7L456.8 536.1M468.4 519.8L453.5 522.6M457.8 524.6L453.5 522.6L456.8 519.1M468.4 502.8L453.5 505.7M457.8 507.8L453.5 505.7L456.8 502.2M468.4 485.9L453.2 486.5M457.2 489.2L453.2 486.5L457.0 483.6M468.4 468.9L455.2 461.4M457.2 465.8L455.2 461.4L459.9 460.9M468.4 451.9L455.2 444.4M457.2 448.8L455.2 444.4L460.0 443.9M468.4 434.9L455.0 427.7M457.1 432.0L455.0 427.7L459.8 427.0M468.4 417.8L455.0 410.7M457.1 415.0L455.0 410.7L459.7 410.0M468.4 400.6L455.3 392.9M457.2 397.3L455.3 392.9L460.1 392.5M468.4 383.4L459.5 371.1M459.5 375.9L459.5 371.1L464.0 372.6M468.4 366.2L459.2 354.1M459.3 358.9L459.2 354.1L463.8 355.5M468.4 348.9L459.5 336.5M459.5 341.3L459.5 336.5L464.1 338.1M468.4 331.5L460.8 318.4M460.3 323.1L460.8 318.4L465.2 320.3M468.4 278.9L475.7 265.6M471.4 267.6L475.7 265.6L476.3 270.3M468.4 261.2L475.8 247.9M471.5 249.9L475.8 247.9L476.4 252.7M468.4 243.3L474.6 229.5M470.5 231.9L474.6 229.5L475.6 234.2M468.4 225.4L462.8 211.3M461.6 216.0L462.8 211.3L466.8 213.9M468.4 207.4L457.9 196.4M458.5 201.2L457.9 196.4L462.6 197.3M468.4 189.2L469.4 174.0M466.3 177.7L469.4 174.0L471.9 178.1M468.4 170.9L471.4 156.0M467.8 159.3L471.4 156.0L473.4 160.4M468.4 152.5L474.2 138.4M470.1 141.0L474.2 138.4L475.3 143.1M468.4 133.9L475.5 120.5M471.2 122.6L475.5 120.5L476.2 125.2M468.4 115.2L476.0 102.0M471.6 104.0L476.0 102.0L476.5 106.8M485.3 570.5L470.3 573.0M474.6 575.2L470.3 573.0L473.7 569.6M485.3 536.7L470.6 540.4M475.0 542.2L470.6 540.4L473.6 536.7M485.3 519.8L470.5 523.2M474.9 525.1L470.5 523.2L473.6 519.6M485.3 502.8L470.4 506.0M474.8 507.9L470.4 506.0L473.6 502.4M485.3 485.9L470.3 488.0M474.5 490.3L470.3 488.0L473.7 484.7M485.3 451.9L471.9 444.7M474.0 449.0L471.9 444.7L476.7 444.0M485.3 434.9L471.7 428.1M473.9 432.3L471.7 428.1L476.4 427.3M485.3 417.8L471.3 412.0M473.8 416.1L471.3 412.0L475.9 410.8M485.3 400.6L471.1 395.2M473.7 399.2L471.1 395.2L475.8 393.9M485.3 383.4L471.8 376.4M474.0 380.7L471.8 376.4L476.6 375.7M485.3 366.2L471.4 360.0M473.8 364.1L471.4 360.0L476.1 359.0M485.3 243.3L485.0 228.1M482.3 232.1L485.0 228.1L487.9 232.0M485.3 225.4L474.9 214.3M475.5 219.1L474.9 214.3L479.7 215.2M485.3 207.4L477.2 194.5M476.9 199.3L477.2 194.5L481.7 196.3M485.3 189.2L479.7 175.1M478.5 179.7L479.7 175.1L483.8 177.7M485.3 115.2L493.8 102.6M489.3 104.2L493.8 102.6L494.0 107.4M485.3 96.3L493.6 83.6M489.1 85.3L493.6 83.6L493.8 88.4M502.2 570.5L487.4 573.9M491.8 575.8L487.4 573.9L490.5 570.3M502.2 536.7L487.5 540.6M492.0 542.3L487.5 540.6L490.5 536.9M502.2 519.8L487.5 523.7M492.0 525.4L487.5 523.7L490.5 519.9M502.2 502.8L487.4 506.3M491.8 508.2L487.4 506.3L490.5 502.7M502.2 485.9L487.2 488.4M491.5 490.5L487.2 488.4L490.6 484.9M502.2 468.9L487.3 466.1M490.6 469.6L487.3 466.1L491.6 464.0M502.2 434.9L488.4 428.5M490.7 432.7L488.4 428.5L493.1 427.5M502.2 417.8L488.1 412.2M490.6 416.2L488.1 412.2L492.7 411.0M502.2 400.6L487.5 396.7M490.5 400.4L487.5 396.7L492.0 395.0M502.2 366.2L487.9 361.0M490.6 365.0L487.9 361.0L492.5 359.7M502.2 348.9L488.1 343.3M490.6 347.3L488.1 343.3L492.7 342.1M502.2 243.3L489.6 234.8M491.2 239.4L489.6 234.8L494.4 234.7M502.2 225.4L491.4 214.8M492.2 219.5L491.4 214.8L496.1 215.5M502.2 207.4L493.9 194.7M493.6 199.5L493.9 194.7L498.4 196.4M502.2 189.2L498.2 174.6M496.5 179.0L498.2 174.6L501.9 177.6M502.2 170.9L501.0 155.8M498.5 159.8L501.0 155.8L504.2 159.4M502.2 152.5L503.6 137.4M500.4 141.0L503.6 137.4L506.0 141.5M502.2 115.2L512.5 104.0M507.8 105.0L512.5 104.0L511.9 108.8M502.2 96.3L510.3 83.4M505.8 85.2L510.3 83.4L510.6 88.2M502.2 77.3L510.6 64.6M506.1 66.3L510.6 64.6L510.8 69.4M502.2 58.0L510.9 45.6M506.4 47.1L510.9 45.6L511.0 50.4M519.1 570.5L504.6 575.1M509.2 576.6L504.6 575.1L507.5 571.2M519.1 536.7L504.5 541.1M509.1 542.7L504.5 541.1L507.5 537.3M519.1 519.8L504.5 523.9M509.0 525.6L504.5 523.9L507.4 520.2M519.1 502.8L504.4 506.8M508.9 508.5L504.4 506.8L507.4 503.0M519.1 485.9L504.4 489.7M508.8 491.4L504.4 489.7L507.4 486.0M519.1 468.9L503.9 469.8M508.0 472.4L503.9 469.8L507.6 466.7M519.1 451.9L504.4 447.9M507.4 451.7L504.4 447.9L508.9 446.2M519.1 383.4L504.0 381.4M507.5 384.7L504.0 381.4L508.3 379.1M519.1 366.2L504.1 363.7M507.5 367.1L504.1 363.7L508.4 361.6M519.1 348.9L504.6 344.3M507.5 348.1L504.6 344.3L509.2 342.8M519.1 314.1L504.6 309.3M507.5 313.2L504.6 309.3L509.2 307.9M519.1 296.5L504.1 294.3M507.5 297.7L504.1 294.3L508.3 292.1M519.1 278.9L504.2 275.9M507.5 279.4L504.2 275.9L508.6 273.9M519.1 261.2L504.4 257.1M507.4 260.9L504.4 257.1L508.9 255.4M519.1 243.3L505.7 236.2M507.8 240.6L505.7 236.2L510.4 235.6M519.1 225.4L508.5 214.5M509.2 219.3L508.5 214.5L513.2 215.3M519.1 207.4L510.0 195.2M510.1 200.0L510.0 195.2L514.6 196.6M519.1 189.2L516.4 174.3M514.3 178.6L516.4 174.3L519.9 177.6M519.1 170.9L517.4 155.8M515.0 160.0L517.4 155.8L520.6 159.4M519.1 152.5L520.0 137.3M516.9 141.0L520.0 137.3L522.6 141.3M519.1 133.9L527.1 121.0M522.6 122.8L527.1 121.0L527.4 125.8M519.1 115.2L528.8 103.5M524.2 104.7L528.8 103.5L528.5 108.3M519.1 96.3L527.1 83.4M522.6 85.2L527.1 83.4L527.4 88.2M519.1 77.3L527.4 64.5M522.9 66.2L527.4 64.5L527.6 69.3M519.1 58.0L527.8 45.6M523.3 47.1L527.8 45.6L527.9 50.4M519.1 38.6L527.6 26.0M523.1 27.6L527.6 26.0L527.7 30.8M536.0 570.5L522.2 576.9M526.9 577.8L522.2 576.9L524.6 572.7M536.0 536.7L521.7 541.9M526.3 543.2L521.7 541.9L524.4 537.9M536.0 519.8L521.7 524.9M526.3 526.2L521.7 524.9L524.4 520.9M536.0 502.8L521.5 507.4M526.1 509.0L521.5 507.4L524.4 503.6M536.0 485.9L521.5 490.3M526.0 491.9L521.5 490.3L524.4 486.5M536.0 468.9L521.2 472.5M525.7 474.3L521.2 472.5L524.3 468.8M536.0 417.8L520.8 417.6M524.7 420.5L520.8 417.6L524.7 414.8M536.0 314.1L521.3 310.3M524.3 314.0L521.3 310.3L525.7 308.5M536.0 296.5L521.1 293.7M524.4 297.2L521.1 293.7L525.4 291.6M536.0 278.9L521.1 275.7M524.3 279.3L521.1 275.7L525.5 273.7M536.0 261.2L521.0 258.4M524.4 261.9L521.0 258.4L525.4 256.4M536.0 243.3L521.9 237.7M524.4 241.7L521.9 237.7L526.6 236.5M536.0 225.4L523.6 216.7M525.1 221.2L523.6 216.7L528.4 216.6M536.0 207.4L525.3 196.6M526.0 201.3L525.3 196.6L530.0 197.4M536.0 189.2L530.4 175.1M529.2 179.7L530.4 175.1L534.4 177.7M536.0 170.9L532.6 156.1M530.7 160.5L532.6 156.1L536.2 159.3M536.0 152.5L535.9 137.3M533.1 141.2L535.9 137.3L538.8 141.2M536.0 133.9L543.9 120.9M539.5 122.8L543.9 120.9L544.3 125.7M536.0 115.2L544.0 102.3M539.6 104.1L544.0 102.3L544.4 107.1M536.0 96.3L543.5 83.1M539.2 85.1L543.5 83.1L544.1 87.9M536.0 77.3L544.0 64.3M539.6 66.2L544.0 64.3L544.4 69.1M536.0 58.0L545.2 45.9M540.6 47.3L545.2 45.9L545.1 50.7M536.0 38.6L544.5 26.0M540.0 27.6L544.5 26.0L544.7 30.8M552.9 570.5L540.7 579.5M545.5 579.5L540.7 579.5L542.1 574.9M552.9 536.7L538.8 542.3M543.4 543.5L538.8 542.3L541.3 538.2M552.9 519.8L538.6 524.9M543.2 526.3L538.6 524.9L541.3 521.0M552.9 502.8L538.5 507.6M543.0 509.0L538.5 507.6L541.3 503.7M552.9 485.9L538.6 491.0M543.2 492.4L538.6 491.0L541.3 487.0M552.9 400.6L537.7 401.8M541.8 404.3L537.7 401.8L541.4 398.7M552.9 348.9L537.7 348.5M541.5 351.4L537.7 348.5L541.7 345.8M552.9 331.5L537.7 331.8M541.6 334.6L537.7 331.8L541.5 328.9M552.9 314.1L537.7 313.2M541.4 316.2L537.7 313.2L541.8 310.6M552.9 296.5L538.1 293.2M541.2 296.8L538.1 293.2L542.5 291.3M552.9 278.9L538.0 275.9M541.3 279.5L538.0 275.9L542.3 273.9M552.9 261.2L538.0 258.4M541.3 261.9L538.0 258.4L542.3 256.3M552.9 243.3L538.2 239.6M541.2 243.3L538.2 239.6L542.6 237.9M552.9 225.4L539.9 217.6M541.8 222.0L539.9 217.6L544.7 217.1M552.9 207.4L540.9 198.1M542.2 202.7L540.9 198.1L545.7 198.2M552.9 189.2L543.4 177.4M543.6 182.2L543.4 177.4L548.0 178.6M552.9 170.9L551.9 155.8M549.3 159.8L551.9 155.8L555.0 159.4M552.9 152.5L551.9 137.3M549.3 141.4L551.9 137.3L554.9 141.0M552.9 133.9L558.9 120.0M554.8 122.4L558.9 120.0L560.0 124.7M552.9 115.2L557.4 100.7M553.5 103.5L557.4 100.7L558.9 105.2M552.9 96.3L559.1 82.4M555.0 84.8L559.1 82.4L560.1 87.1M552.9 77.3L560.3 64.0M555.9 66.0L560.3 64.0L560.8 68.7M552.9 58.0L562.1 45.9M557.5 47.3L562.1 45.9L562.0 50.7M552.9 38.6L561.2 25.9M556.7 27.6L561.2 25.9L561.4 30.7M569.8 570.5L558.4 580.5M563.1 580.1L558.4 580.5L559.4 575.8M569.8 553.6L558.5 563.8M563.3 563.3L558.5 563.8L559.5 559.1M569.8 536.7L557.7 545.8M562.5 545.8L557.7 545.8L559.1 541.3M569.8 519.8L556.1 526.4M560.8 527.2L556.1 526.4L558.4 522.2M569.8 502.8L555.9 508.9M560.5 509.9L555.9 508.9L558.3 504.8M569.8 485.9L555.6 491.2M560.2 492.5L555.6 491.2L558.2 487.2M569.8 468.9L555.5 474.1M560.1 475.4L555.5 474.1L558.2 470.1M569.8 400.6L554.7 402.7M559.0 405.0L554.7 402.7L558.2 399.4M569.8 383.4L554.7 384.9M558.8 387.3L554.7 384.9L558.3 381.7M569.8 366.2L554.7 367.7M558.8 370.1L554.7 367.7L558.3 364.5M569.8 348.9L554.6 349.6M558.6 352.3L554.6 349.6L558.4 346.6M569.8 331.5L554.6 332.3M558.6 334.9L554.6 332.3L558.4 329.3M569.8 314.1L554.6 314.5M558.6 317.2L554.6 314.5L558.4 311.6M569.8 296.5L554.7 294.6M558.2 297.9L554.7 294.6L558.9 292.3M569.8 278.9L554.7 277.3M558.3 280.5L554.7 277.3L558.8 274.9M569.8 261.2L554.6 260.1M558.3 263.2L554.6 260.1L558.7 257.6M569.8 243.3L555.0 239.8M558.1 243.5L555.0 239.8L559.4 238.0M569.8 225.4L556.0 219.0M558.4 223.2L556.0 219.0L560.7 218.1M569.8 207.4L556.2 200.6M558.4 204.9L556.2 200.6L560.9 199.8M569.8 189.2L559.6 177.9M560.1 182.7L559.6 177.9L564.3 178.9M569.8 170.9L563.8 156.9M562.8 161.6L563.8 156.9L568.0 159.4M569.8 152.5L567.6 137.4M565.4 141.7L567.6 137.4L571.0 140.9M569.8 133.9L569.3 118.7M566.6 122.7L569.3 118.7L572.3 122.5M569.8 115.2L571.2 100.1M568.0 103.7L571.2 100.1L573.7 104.2M569.8 96.3L576.1 82.5M572.0 84.8L576.1 82.5L577.1 87.2M569.8 77.3L577.1 63.9M572.8 66.0L577.1 63.9L577.7 68.7M569.8 58.0L579.1 46.0M574.5 47.3L579.1 46.0L578.9 50.8M569.8 38.6L577.5 25.5M573.1 27.4L577.5 25.5L578.0 30.3M586.7 570.5L575.2 580.4M579.9 580.0L575.2 580.4L576.3 575.7M586.7 553.6L575.2 563.6M580.0 563.2L575.2 563.6L576.3 558.9M586.7 536.7L574.7 546.0M579.5 545.9L574.7 546.0L576.0 541.4M586.7 519.8L573.6 527.5M578.4 528.0L573.6 527.5L575.5 523.1M586.7 502.8L573.3 510.0M578.0 510.6L573.3 510.0L575.4 505.7M586.7 485.9L573.1 492.7M577.8 493.5L573.1 492.7L575.3 488.4M586.7 468.9L572.8 475.2M577.6 476.1L572.8 475.2L575.2 471.0M586.7 451.9L572.4 457.2M577.1 458.5L572.4 457.2L575.1 453.2M586.7 434.9L572.4 440.0M577.0 441.4L572.4 440.0L575.1 436.1M586.7 417.8L571.8 421.0M576.2 422.9L571.8 421.0L575.0 417.4M586.7 400.6L571.8 403.7M576.2 405.7L571.8 403.7L575.0 400.2M586.7 383.4L571.6 385.1M575.8 387.5L571.6 385.1L575.1 381.9M586.7 366.2L571.6 367.8M575.7 370.2L571.6 367.8L575.2 364.6M586.7 348.9L571.5 349.9M575.6 352.4L571.5 349.9L575.2 346.8M586.7 331.5L571.5 332.1M575.5 334.8L571.5 332.1L575.3 329.1M586.7 314.1L571.5 314.1M575.4 316.9L571.5 314.1L575.4 311.2M586.7 296.5L571.5 295.9M575.3 298.9L571.5 295.9L575.5 293.2M586.7 278.9L571.5 278.5M575.3 281.5L571.5 278.5L575.4 275.8M586.7 261.2L571.6 259.7M575.2 262.9L571.6 259.7L575.7 257.3M586.7 243.3L571.6 241.2M575.1 244.6L571.6 241.2L575.9 239.0M586.7 225.4L572.3 220.5M575.1 224.4L572.3 220.5L576.9 219.1M586.7 207.4L573.7 199.5M575.6 203.9L573.7 199.5L578.5 199.1M586.7 189.2L573.7 181.3M575.6 185.8L573.7 181.3L578.5 180.9M586.7 170.9L577.3 159.0M577.5 163.8L577.3 159.0L581.9 160.3M586.7 152.5L580.8 138.5M579.7 143.2L580.8 138.5L584.9 141.0M586.7 133.9L584.1 119.0M581.9 123.3L584.1 119.0L587.5 122.3M586.7 115.2L587.2 100.0M584.3 103.8L587.2 100.0L589.9 104.0M586.7 96.3L591.3 81.8M587.5 84.7L591.3 81.8L592.8 86.4M586.7 77.3L593.3 63.6M589.1 65.8L593.3 63.6L594.1 68.3M586.7 58.0L591.9 43.7M587.9 46.4L591.9 43.7L593.2 48.4M586.7 38.6L591.5 24.2M587.6 27.0L591.5 24.2L593.0 28.8M603.6 570.5L591.9 580.2M596.7 579.9L591.9 580.2L593.1 575.5M603.6 519.8L590.9 528.2M595.7 528.4L590.9 528.2L592.6 523.7M603.6 502.8L590.2 510.0M594.9 510.7L590.2 510.0L592.3 505.7M603.6 485.9L589.9 492.5M594.6 493.4L589.9 492.5L592.2 488.3M603.6 468.9L589.8 475.3M594.5 476.3L589.8 475.3L592.2 471.1M603.6 451.9L589.5 457.6M594.1 458.7L589.5 457.6L592.0 453.5M603.6 434.9L589.2 439.8M593.8 441.2L589.2 439.8L592.0 435.9M603.6 417.8L588.8 421.2M593.2 423.0L588.8 421.2L591.9 417.5M603.6 400.6L588.7 403.7M593.1 405.7L588.7 403.7L591.9 400.1M603.6 383.4L588.5 385.4M592.7 387.7L588.5 385.4L592.0 382.1M603.6 366.2L588.5 367.5M592.6 370.0L588.5 367.5L592.1 364.4M603.6 348.9L588.4 349.6M592.4 352.2L588.4 349.6L592.2 346.6M603.6 331.5L588.4 331.9M592.3 334.6L588.4 331.9L592.2 328.9M603.6 314.1L588.4 313.9M592.3 316.8L588.4 313.9L592.3 311.1M603.6 296.5L588.4 296.3M592.2 299.2L588.4 296.3L592.3 293.6M603.6 278.9L588.4 278.9M592.3 281.7L588.4 278.9L592.3 276.1M603.6 261.2L588.4 260.0M592.1 263.1L588.4 260.0L592.5 257.5M603.6 243.3L588.5 241.7M592.0 245.0L588.5 241.7L592.6 239.3M603.6 225.4L588.6 222.8M592.0 226.3L588.6 222.8L592.9 220.7M603.6 207.4L590.3 200.0M592.3 204.3L590.3 200.0L595.1 199.4M603.6 189.2L591.2 180.4M592.7 185.0L591.2 180.4L596.0 180.4M603.6 170.9L592.2 160.9M593.2 165.6L592.2 160.9L596.9 161.3M603.6 152.5L595.5 139.6M595.2 144.4L595.5 139.6L600.0 141.4M603.6 133.9L599.1 119.4M597.6 123.9L599.1 119.4L603.0 122.3M603.6 115.2L602.3 100.1M599.8 104.2L602.3 100.1L605.4 103.7M603.6 96.3L606.2 81.3M602.7 84.7L606.2 81.3L608.3 85.6M603.6 77.3L607.5 62.6M603.8 65.6L607.5 62.6L609.2 67.0M603.6 58.0L604.7 42.9M601.6 46.5L604.7 42.9L607.2 46.9M603.6 38.6L604.3 23.4M601.3 27.2L604.3 23.4L606.9 27.4M620.5 570.5L608.9 580.3M613.6 579.9L608.9 580.3L610.0 575.6M620.5 553.6L608.7 563.2M613.5 562.9L608.7 563.2L609.9 558.5M620.5 536.7L608.2 545.6M613.0 545.6L608.2 545.6L609.7 541.0M620.5 519.8L607.7 527.9M612.5 528.2L607.7 527.9L609.4 523.5M620.5 502.8L607.4 510.6M612.2 511.0L607.4 510.6L609.3 506.2M620.5 485.9L606.8 492.4M611.5 493.3L606.8 492.4L609.1 488.2M620.5 468.9L606.6 475.1M611.3 476.1L606.6 475.1L609.0 471.0M620.5 451.9L606.2 457.2M610.9 458.5L606.2 457.2L608.9 453.2M620.5 434.9L606.0 439.4M610.5 440.9L606.0 439.4L608.9 435.5M620.5 417.8L605.7 421.1M610.1 423.0L605.7 421.1L608.8 417.5M620.5 400.6L605.5 403.2M609.8 405.3L605.5 403.2L608.9 399.8M620.5 383.4L605.4 385.1M609.6 387.5L605.4 385.1L608.9 381.9M620.5 366.2L605.4 367.6M609.5 370.1L605.4 367.6L609.0 364.5M620.5 348.9L605.3 349.7M609.3 352.3L605.3 349.7L609.1 346.6M620.5 331.5L605.3 332.3M609.3 334.9L605.3 332.3L609.1 329.3M620.5 314.1L605.3 314.6M609.3 317.3L605.3 314.6L609.1 311.6M620.5 296.5L605.3 296.8M609.2 299.6L605.3 296.8L609.1 293.9M620.5 278.9L605.3 278.5M609.1 281.5L605.3 278.5L609.2 275.8M620.5 261.2L605.4 259.7M609.0 262.9L605.4 259.7L609.5 257.3M620.5 243.3L605.4 242.1M609.0 245.2L605.4 242.1L609.5 239.6M620.5 225.4L605.6 222.2M608.8 225.8L605.6 222.2L610.0 220.3M620.5 207.4L606.0 202.9M608.9 206.7L606.0 202.9L610.5 201.3M620.5 189.2L606.9 182.4M609.1 186.6L606.9 182.4L611.7 181.6M620.5 170.9L607.2 163.5M609.3 167.8L607.2 163.5L612.0 162.9M620.5 152.5L610.1 141.4M610.7 146.1L610.1 141.4L614.8 142.3M620.5 133.9L613.6 120.4M612.8 125.1L613.6 120.4L617.9 122.6M620.5 115.2L617.0 100.4M615.2 104.8L617.0 100.4L620.7 103.5M620.5 96.3L619.1 81.2M616.7 85.3L619.1 81.2L622.3 84.8M620.5 77.3L619.2 62.1M616.7 66.2L619.2 62.1L622.4 65.7M620.5 58.0L618.2 43.0M616.0 47.3L618.2 43.0L621.6 46.4M620.5 38.6L617.9 23.6M615.8 28.0L617.9 23.6L621.3 27.0M637.4 570.5L625.5 580.0M630.3 579.8L625.5 580.0L626.8 575.4M637.4 553.6L625.0 562.4M629.8 562.4L625.0 562.4L626.5 557.8M637.4 536.7L624.9 545.4M629.7 545.5L624.9 545.4L626.5 540.9M637.4 519.8L624.5 527.8M629.3 528.2L624.5 527.8L626.3 523.4M637.4 502.8L624.5 510.9M629.3 511.2L624.5 510.9L626.3 506.4M637.4 485.9L623.6 492.3M628.3 493.2L623.6 492.3L626.0 488.1M637.4 468.9L623.6 475.3M628.3 476.2L623.6 475.3L625.9 471.1M637.4 451.9L623.1 457.1M627.7 458.4L623.1 457.1L625.8 453.1M637.4 434.9L623.0 439.6M627.5 441.1L623.0 439.6L625.8 435.7M637.4 417.8L622.5 420.9M626.9 422.9L622.5 420.9L625.7 417.4M637.4 400.6L622.4 403.1M626.7 405.3L622.4 403.1L625.8 399.7M637.4 383.4L622.3 385.0M626.4 387.4L622.3 385.0L625.9 381.8M637.4 366.2L622.3 367.8M626.4 370.2L622.3 367.8L625.9 364.5M637.4 348.9L622.2 349.7M626.3 352.3L622.2 349.7L625.9 346.7M637.4 331.5L622.2 332.3M626.2 334.9L622.2 332.3L626.0 329.3M637.4 314.1L622.2 314.6M626.2 317.3L622.2 314.6L626.0 311.7M637.4 296.5L622.2 297.0M626.2 299.7L622.2 297.0L626.0 294.1M637.4 278.9L622.2 278.8M626.1 281.6L622.2 278.8L626.1 276.0M637.4 261.2L622.3 259.6M625.9 262.8L622.3 259.6L626.4 257.2M637.4 243.3L622.2 242.2M625.9 245.3L622.2 242.2L626.3 239.7M637.4 225.4L622.6 222.2M625.7 225.8L622.6 222.2L626.9 220.2M637.4 207.4L622.8 203.1M625.7 206.9L622.8 203.1L627.3 201.5M637.4 189.2L623.7 182.7M626.0 186.9L623.7 182.7L628.4 181.8M637.4 170.9L623.5 164.7M625.9 168.8L623.5 164.7L628.2 163.7M637.4 152.5L624.8 143.9M626.5 148.5L624.8 143.9L629.6 143.8M637.4 133.9L627.7 122.2M628.0 127.0L627.7 122.2L632.3 123.4M637.4 115.2L629.9 102.0M629.3 106.8L629.9 102.0L634.2 104.0M637.4 96.3L632.2 82.0M630.9 86.6L632.2 82.0L636.2 84.7M637.4 77.3L634.8 62.3M632.7 66.6L634.8 62.3L638.2 65.6M637.4 58.0L632.1 43.8M630.8 48.4L632.1 43.8L636.1 46.4M637.4 38.6L632.2 24.3M630.9 28.9L632.2 24.3L636.2 27.0" fill="none" stroke="#000080" stroke-width="1" shape-rendering="crispEdges"/>
<g stroke="#000" stroke-width="1" shape-rendering="crispEdges">
<line x1="130.5" y1="37" x2="130.5" y2="571"/>
<line x1="214.5" y1="37" x2="214.5" y2="571"/>
<line x1="299.5" y1="37" x2="299.5" y2="571"/>
<line x1="383.5" y1="37" x2="383.5" y2="571"/>
<line x1="468.5" y1="37" x2="468.5" y2="571"/>
<line x1="552.5" y1="37" x2="552.5" y2="571"/>
<line x1="112" y1="485.5" x2="638" y2="485.5"/>
<line x1="112" y1="400.5" x2="638" y2="400.5"/>
<line x1="112" y1="314.5" x2="638" y2="314.5"/>
<line x1="112" y1="225.5" x2="638" y2="225.5"/>
<line x1="112" y1="133.5" x2="638" y2="133.5"/>
</g>
<g fill="#c0c0c0" stroke="#000" stroke-width="1.2" stroke-linejoin="round" shape-rendering="crispEdges">
<polygon points="113.0,38.0 502.0,38.0 499.0,42.0 494.0,48.0 494.0,56.0 497.0,62.0 495.0,69.0 489.0,73.0 484.0,77.0 481.0,82.0 478.0,88.0 473.0,94.0 468.0,99.0 462.0,101.0 462.0,107.0 465.0,112.0 462.0,118.0 458.0,124.0 453.0,129.0 448.0,134.0 443.0,139.0 437.0,143.0 432.0,147.0 427.0,152.0 421.0,156.0 415.0,160.0 415.0,163.0 410.0,166.0 404.0,170.0 396.0,172.0 388.0,173.0 380.0,175.0 374.0,178.0 368.0,181.0 364.0,178.0 361.0,173.0 358.0,169.0 357.0,175.0 358.0,180.0 354.0,183.0 349.0,180.0 350.0,187.0 346.0,191.0 340.0,193.0 332.0,193.0 326.0,195.0 318.0,197.0 311.0,199.0 306.0,200.0 307.0,204.0 303.0,208.0 303.0,212.0 307.0,213.0 308.0,217.0 305.0,220.0 300.0,219.0 297.0,215.0 295.0,208.0 298.0,202.0 297.0,198.0 291.0,195.0 285.0,197.0 280.0,194.0 274.0,191.0 266.0,194.0 260.0,196.0 254.0,201.0 243.0,206.0 243.0,211.0 241.0,219.0 233.0,225.0 229.0,231.0 228.0,239.0 226.0,243.0 228.0,249.0 233.0,253.0 239.0,259.0 241.0,267.0 247.0,275.0 254.0,281.0 260.0,285.0 270.0,296.0 275.0,302.0 280.0,307.0 283.0,316.0 285.0,326.0 287.0,336.0 290.0,348.0 288.0,356.0 286.0,366.0 285.0,374.0 280.0,380.0 272.0,384.0 266.0,387.0 260.0,389.0 254.0,392.0 247.0,394.0 243.0,400.0 239.0,406.0 233.0,412.0 225.0,416.0 220.0,420.0 213.0,423.0 212.0,416.0 214.0,408.0 216.0,401.0 213.0,398.0 208.0,396.0 203.0,392.0 197.0,391.0 194.0,387.0 193.0,382.0 189.0,382.0 187.0,388.0 184.0,384.0 183.0,376.0 179.0,371.0 175.0,365.0 170.0,361.0 165.0,356.0 160.0,354.0 153.0,355.0 145.0,354.0 143.0,349.0 146.0,346.0 148.0,341.0 141.0,339.0 135.0,339.0 131.0,341.0 130.0,344.0 130.0,364.0 126.0,372.0 123.0,380.0 122.0,388.0 118.0,394.0 116.0,404.0 119.0,412.0 125.0,413.0 129.0,416.0 130.0,424.0 132.0,429.0 135.0,429.0 137.0,439.0 140.0,447.0 146.0,452.0 154.0,454.0 161.0,461.0 169.0,467.0 177.0,473.0 184.0,480.0 187.0,488.0 188.0,497.0 187.0,507.0 188.0,512.5 189.4,519.0 192.0,524.5 195.0,529.0 197.5,534.0 200.0,539.0 201.0,544.0 199.0,546.0 195.0,548.0 190.0,548.0 188.0,546.0 184.0,542.5 179.0,539.0 174.0,535.5 169.0,532.0 164.0,529.0 159.0,525.0 154.5,521.0 152.0,516.0 149.5,511.0 146.0,506.0 144.0,500.0 142.0,495.0 140.0,485.0 137.0,477.0 135.0,467.0 133.0,459.0 127.0,455.0 124.0,447.0 119.0,441.0 117.0,435.0 113.0,434.0"/>
<polygon points="113.0,509.0 119.0,513.0 125.0,518.0 130.0,525.0 137.0,529.0 140.0,533.0 144.0,534.0 145.5,537.5 147.0,532.5 150.0,533.0 152.5,537.5 154.0,540.5 160.0,542.5 165.0,545.0 167.0,550.0 171.0,555.0 176.0,557.0 181.0,558.0 183.0,561.0 187.5,562.0 191.0,564.0 194.0,567.5 194.5,570.0 124.0,570.0 120.0,565.0 116.0,558.0 113.0,552.0"/>
<polygon points="426.0,570.0 281.0,570.0 281.0,562.0 282.0,553.0 285.0,545.0 291.0,537.0 295.0,543.0 303.0,542.0 311.0,544.0 318.0,543.0 320.0,531.0 322.0,523.0 329.0,522.0 340.0,520.0 348.0,518.0 354.0,513.0 360.0,505.0 366.0,498.0 369.0,493.0 375.0,491.0 382.0,486.0 390.0,485.0 394.0,479.0 400.0,471.0 406.0,463.0 411.0,454.0 415.0,451.0 419.0,452.0 424.0,457.0 429.0,464.0 433.0,472.0 441.0,475.0 449.0,477.0 456.0,481.0 453.0,485.0 443.0,487.0 437.0,488.0 441.0,493.0 435.0,498.0 429.0,500.0 425.0,506.0 424.0,513.0 426.0,520.0 430.0,526.0 432.0,533.0 435.0,540.0 441.0,546.0 447.0,551.0 451.0,554.0 445.0,555.0 436.0,552.0 433.0,555.0 429.0,560.0"/>
<polygon points="467.0,563.0 473.0,556.0 481.0,552.0 485.0,548.0 492.0,550.0 499.0,553.0 509.0,554.0 519.0,555.0 529.0,556.0 538.0,554.0 544.0,551.0 549.0,546.0 553.0,543.0 557.0,544.0 555.0,548.0 551.0,553.0 546.0,559.0 541.0,563.0 533.0,565.0 525.0,564.0 515.0,561.0 505.0,561.0 495.0,562.0 485.0,563.0 477.0,562.0 472.0,563.0 469.0,569.0 466.6,569.6"/>
<polygon points="609.4,528.0 613.0,526.9 615.0,530.0 613.8,533.8 610.0,535.6 608.0,532.5"/>
<polygon points="602.5,533.8 603.0,540.0 602.5,546.3 600.0,551.3 596.3,552.5 594.4,548.8 596.3,542.5 598.8,537.5 600.6,534.4"/>
<polygon points="610.0,544.4 614.4,543.8 615.6,547.5 613.8,551.3 610.0,553.8 606.9,556.9 610.0,560.0 614.4,561.3 617.5,565.0 615.0,565.0 612.5,562.5 607.5,561.3 603.8,562.5 603.0,566.3 602.5,570.0 599.4,570.0 598.8,565.0 596.9,561.3 597.5,557.5 601.3,556.3 603.8,551.3 606.3,547.5"/>
<polygon points="495.0,128.5 500.0,133.5 499.5,140.0 499.0,143.5 497.0,150.0 495.0,156.0 493.0,163.0 491.0,168.5 487.0,178.5 483.5,189.0 481.0,189.0 477.0,183.0 473.0,176.0 470.5,166.0 471.0,156.0 474.0,148.5 479.0,141.0 485.0,133.5 491.0,129.0"/>
<polygon points="276.2,238.0 279.9,233.0 285.9,228.3 293.7,226.5 302.0,225.3 309.3,223.5 314.2,226.0 316.6,229.5 314.8,234.3 310.5,239.0 309.3,244.0 307.5,248.8 302.0,252.4 297.3,254.8 291.9,257.8 286.5,256.0 281.7,253.6 277.4,251.2 276.2,245.2"/>
<polygon points="478.0,253.0 482.0,250.6 487.0,249.4 491.3,252.0 495.0,254.4 499.0,256.3 503.0,255.0 505.0,251.3 507.0,252.5 506.3,259.0 505.0,265.0 507.0,270.0 510.0,273.0 510.6,277.5 509.0,284.0 505.6,290.0 502.5,294.0 497.5,296.3 495.0,300.0 494.0,305.0 492.0,309.0 492.5,314.0 495.0,317.5 497.0,321.0 499.0,325.0 502.5,329.0 505.6,331.3 509.0,328.0 512.5,326.0 517.0,327.0 519.4,330.6 520.6,335.0 523.0,337.5 525.6,335.0 530.0,333.8 535.0,333.8 531.3,337.0 529.0,340.0 532.0,344.4 536.3,347.0 539.0,349.4 538.0,354.0 536.0,355.0 533.0,350.6 529.0,347.0 525.0,344.0 522.0,340.6 519.0,338.0 515.6,335.6 513.0,337.0 513.0,344.5 511.0,343.0 509.0,339.5 505.0,336.0 501.0,334.0 497.5,332.5 492.5,334.0 487.5,335.5 484.0,334.5 479.5,334.0 479.0,330.0 480.0,326.0 484.5,324.0 485.0,320.0 481.0,317.5 478.0,319.0 477.5,324.0 475.0,320.0 471.0,318.0 469.4,312.5 467.5,306.0 466.3,300.0 465.0,294.0 465.6,290.0 467.5,292.5 471.3,295.0 474.4,294.0 473.8,290.0 474.4,284.0 475.0,277.5 476.3,271.0 475.0,265.0 477.0,259.0"/>
<polygon points="476.9,340.6 480.0,340.0 485.0,340.6 489.4,343.0 492.5,346.3 494.4,351.3 493.8,356.3 491.3,360.0 488.8,361.9 486.3,358.8 483.8,355.0 481.9,350.0 480.0,345.0 477.5,342.5"/>
<polygon points="500.0,339.5 503.5,339.5 504.0,344.0 500.5,344.5"/>
<polygon points="503.8,367.5 507.5,370.0 511.3,373.0 515.6,374.4 520.6,374.4 520.0,378.0 516.3,381.9 513.8,385.6 510.0,388.0 505.0,390.0 501.3,393.0 500.6,390.0 502.5,383.8 503.8,377.5 502.5,371.9"/>
<polygon points="520.0,385.0 523.8,383.8 526.9,385.0 526.3,390.0 524.4,395.0 521.9,400.6 520.6,406.3 522.5,410.0 523.8,413.8 520.0,416.3 517.5,414.4 515.6,410.0 511.3,407.5 508.8,403.8 510.6,401.3 515.6,400.0 517.5,395.0 518.0,389.4"/>
<polygon points="535.5,382.0 537.3,386.3 536.0,391.8 533.0,395.8 530.0,399.5 527.5,404.5 525.5,408.0 523.5,404.0 525.3,398.3 528.4,393.2 531.5,388.2 532.8,384.0"/>
<polygon points="535.0,401.9 538.8,398.8 543.0,398.8 545.0,401.3 543.8,404.4 540.0,406.3 536.3,406.3 534.4,404.4"/>
<polygon points="525.0,356.9 528.0,356.9 531.3,361.3 535.0,365.6 536.9,368.8 535.0,368.0 531.3,364.4 528.0,361.9 525.6,362.5 523.8,366.3 523.0,363.8 524.4,359.4"/>
<polygon points="541.3,357.5 545.0,356.3 550.0,355.6 555.0,355.6 557.5,357.5 559.4,361.3 560.0,366.3 560.6,371.3 562.5,376.3 563.0,379.4 560.6,380.6 557.5,379.4 555.0,376.9 553.8,372.5 551.9,370.0 549.4,369.4 547.5,366.9 545.0,363.8 543.0,360.6"/>
<polygon points="543.0,373.8 546.3,376.9 550.0,378.0 551.9,381.3 552.5,386.3 553.8,391.3 555.6,395.0 553.8,397.5 551.3,398.0 549.4,395.0 548.8,390.0 548.0,385.0 545.6,382.5 544.4,378.8"/>
<polygon points="461.0,387.0 456.0,388.0 452.0,393.0 448.0,399.0 443.0,405.0 437.0,410.0 431.0,416.0 426.0,422.0 422.0,427.0 424.0,428.5 429.0,424.5 435.0,419.5 441.0,414.5 446.0,409.5 448.5,403.5 453.0,398.5 458.0,394.0 462.0,391.0 463.0,389.0"/>
<polygon points="560.6,405.0 563.0,405.6 566.9,408.8 570.0,412.5 573.0,417.5 575.0,421.3 574.4,425.0 576.3,430.0 576.9,435.0 578.8,438.8 580.6,442.5 580.0,447.5 577.5,450.0 575.0,452.5 574.4,457.5 573.0,461.3 571.9,456.3 570.6,452.5 568.8,448.8 566.9,445.6 564.4,448.0 563.0,452.5 560.6,455.0 560.0,458.0 562.5,461.9 564.4,465.0 563.8,468.8 561.9,471.9 560.0,475.6 557.5,472.5 555.6,468.0 551.3,470.0 547.5,468.8 543.8,466.9 540.0,464.4 537.5,460.0 536.3,455.0 536.9,450.6 538.8,446.9 538.0,443.0 535.0,440.0 531.9,437.5 529.4,436.3 527.5,438.8 525.0,441.3 521.9,440.0 519.4,441.3 516.3,443.8 513.8,440.0 510.6,440.0 508.0,443.0 506.9,446.9 505.6,451.3 503.0,452.5 501.3,450.0 502.5,445.6 504.4,440.0 506.9,435.6 511.3,433.5 516.3,432.5 519.4,430.6 519.4,426.9 523.0,425.6 528.0,423.8 531.9,425.0 532.5,430.0 531.3,433.8 535.0,432.5 538.8,431.9 540.6,428.0 543.0,425.6 546.9,425.6 549.4,423.0 550.0,419.4 553.0,418.8 556.3,420.0 559.4,418.0 561.3,413.8 560.6,409.4"/>
<polygon points="500.6,457.0 504.0,456.5 505.5,459.0 503.0,461.0 500.5,460.0"/>
<polygon points="484.0,467.0 488.0,466.0 492.0,467.5 491.0,470.5 486.0,471.0"/>
<polygon points="469.0,481.0 473.0,479.0 475.5,481.0 473.0,484.0 469.5,484.0"/>
<polygon points="266.0,500.0 270.0,499.0 272.5,503.0 271.0,508.0 267.0,509.0 265.0,505.0"/>
<polygon points="500.6,315.0 504.0,314.0 505.0,318.0 502.0,320.0"/>
<polygon points="203.0,550.5 208.0,550.0 209.0,553.5 206.0,555.5 203.5,554.0"/>
<polygon points="538.0,331.0 541.0,330.0 542.5,334.0 541.0,338.5 538.5,338.0 537.5,334.0"/>
<polygon points="153.0,535.0 157.0,533.0 160.0,536.0 158.0,540.0 154.0,540.0"/>
<polygon points="166.0,545.0 170.0,545.0 172.0,549.0 176.0,551.0 180.0,553.0 183.0,556.0 180.0,557.0 175.0,555.0 171.0,553.0 168.0,550.0"/>
</g>
<g fill="none" stroke="#000" stroke-width="1" shape-rendering="crispEdges">
<polyline points="113.0,168.0 122.0,170.0 123.0,172.0 119.0,175.0 117.0,183.0 119.0,186.0 128.0,188.0 131.0,193.0 134.0,198.0 141.0,198.0 148.0,194.0 150.6,202.0 159.0,204.0 158.6,193.0 157.4,185.0 159.0,181.0 165.0,180.0 168.0,182.0 172.0,175.0 178.0,178.0 182.0,180.0 187.0,175.0 191.0,177.0 194.0,174.0 199.0,178.0 203.0,173.0 209.0,174.0 214.0,167.0 220.0,164.0 225.0,168.0 231.0,171.0 237.0,172.0 243.0,174.0 245.0,177.0 242.0,181.0 244.0,187.0 249.0,191.0 254.0,194.0 260.0,196.0"/>
<polyline points="148.0,195.0 142.0,202.0 140.0,208.0 134.0,212.0 132.0,217.0 126.0,219.0 122.0,222.0 113.0,225.0"/>
<polyline points="132.0,217.0 135.0,219.0 138.0,223.0 137.0,230.0 142.0,234.0 152.0,233.0 153.0,243.0 149.0,251.0 150.0,259.0 146.0,268.0 150.0,270.0 156.0,264.0 165.0,257.0 175.0,263.0 182.0,261.0 187.0,254.0 198.0,256.0 203.0,261.0 209.0,269.0 211.0,277.0 210.0,283.0 214.0,289.0 221.0,295.0 225.0,302.0 223.0,310.0 222.0,318.0 223.0,324.0"/>
<polyline points="168.0,182.0 169.0,183.0 174.0,189.0 180.0,193.0 181.0,198.0 179.0,202.0 184.0,209.0 191.0,212.0 199.0,208.0 205.0,211.0 208.0,216.0 214.0,222.0 214.0,226.0 209.0,231.0 200.0,232.0 197.0,237.0 201.0,240.0 211.0,245.0 217.0,250.0 220.0,257.0 225.0,263.0 229.0,269.0 237.0,276.0 241.0,281.0 243.0,287.0 249.0,291.0 253.0,296.0 252.0,299.0 257.0,306.0 260.0,310.0 258.0,318.0 257.0,328.0 255.0,336.0 259.0,342.0 259.0,358.0 253.0,362.0 241.0,366.0 233.0,370.0 229.0,374.0 231.0,380.0 235.0,385.0 225.0,384.0 219.0,388.0 216.0,390.0 207.0,394.0"/>
<polyline points="175.0,365.0 172.0,356.0 173.0,350.0 170.0,344.0 170.0,339.0 174.0,334.0 181.0,326.0 193.0,324.0 209.0,324.0 217.0,326.0 223.0,324.0 230.0,330.0 233.0,327.0 243.0,322.0 254.0,321.0 257.0,328.0"/>
<polyline points="230.0,340.0 231.5,348.0 232.0,357.6"/>
<polyline points="214.0,374.0 216.6,380.6 217.0,386.0 222.0,391.4 228.8,396.8 235.6,403.6 238.3,407.7"/>
<polyline points="219.0,386.0 226.0,394.0 234.0,398.0 241.0,401.0"/>
<polyline points="134.0,458.0 142.0,462.0 148.0,465.0 148.0,472.0 151.0,474.0 157.0,471.0 163.0,472.0 165.0,466.0"/>
<polyline points="114.0,332.0 117.0,342.0 116.0,350.0 122.0,360.0 125.0,370.0"/>
<polyline points="113.0,384.0 120.0,380.0 124.0,373.0 125.0,370.0"/>
<polyline points="292.0,538.0 297.0,545.0 303.0,551.0 308.0,556.0 316.0,554.0 326.0,552.0 335.0,551.0 337.0,545.0 348.0,544.0 356.0,547.0 364.0,549.0 372.0,546.0 378.0,543.0 381.0,535.0 384.0,529.0 388.0,523.0 392.0,517.0 393.0,507.0 396.0,499.0 404.0,497.0 415.0,497.0 421.0,498.0 427.0,497.0 433.0,499.0"/>
<polyline points="372.0,493.0 375.0,501.0 380.0,501.0 383.0,493.0"/>
<polyline points="385.0,487.0 385.0,497.0 388.0,497.0 388.0,486.0"/>
<polyline points="176.0,565.6 180.0,563.8 183.0,561.3"/>
</g>
<polyline points="502.0,38.0 499.0,42.0 494.0,48.0 494.0,56.0 497.0,62.0 495.0,69.0 489.0,73.0 484.0,77.0 481.0,82.0 478.0,88.0 473.0,94.0 468.0,99.0 462.0,101.0 462.0,107.0 465.0,112.0 462.0,118.0 458.0,124.0 453.0,129.0 448.0,134.0 443.0,139.0 437.0,143.0 432.0,147.0 427.0,152.0 421.0,156.0 415.0,160.0" fill="none" stroke="#000" stroke-width="3.2" stroke-linejoin="round" stroke-linecap="round"/>
<polyline points="415.0,163.0 410.0,166.0 404.0,170.0 396.0,172.0 388.0,173.0 380.0,175.0 374.0,178.0 368.0,181.0 358.0,180.0 354.0,183.0 350.0,187.0 346.0,191.0 340.0,193.0 332.0,193.0 326.0,195.0 318.0,197.0 311.0,199.0 306.0,200.0" fill="none" stroke="#000" stroke-width="2.2" stroke-linejoin="round" stroke-linecap="round"/>
<polyline points="260.0,196.0 254.0,201.0 243.0,206.0 243.0,211.0" fill="none" stroke="#000" stroke-width="3" stroke-linejoin="round" stroke-linecap="round"/>
<g fill="#000">
<ellipse cx="605.0" cy="106.0" rx="6.5" ry="2.2" transform="rotate(-42 605.0 106.0)"/>
<ellipse cx="628.0" cy="70.0" rx="6.5" ry="2.2" transform="rotate(-42 628.0 70.0)"/>
<ellipse cx="619.0" cy="82.0" rx="1.8" ry="1.5" transform="rotate(0 619.0 82.0)"/>
<ellipse cx="610.0" cy="93.0" rx="1.5" ry="1.0" transform="rotate(-30 610.0 93.0)"/>
<ellipse cx="614.0" cy="88.0" rx="1.5" ry="1.0" transform="rotate(-30 614.0 88.0)"/>
<ellipse cx="593.0" cy="111.0" rx="3.0" ry="1.2" transform="rotate(-10 593.0 111.0)"/>
<ellipse cx="598.0" cy="110.0" rx="1.5" ry="1.0" transform="rotate(0 598.0 110.0)"/>
<ellipse cx="586.0" cy="109.0" rx="2.0" ry="1.0" transform="rotate(0 586.0 109.0)"/>
<ellipse cx="533.0" cy="145.0" rx="4.0" ry="2.5" transform="rotate(-30 533.0 145.0)"/>
<ellipse cx="540.0" cy="143.0" rx="2.0" ry="1.5" transform="rotate(0 540.0 143.0)"/>
<ellipse cx="547.0" cy="138.0" rx="3.5" ry="2.5" transform="rotate(-20 547.0 138.0)"/>
<ellipse cx="520.0" cy="145.0" rx="1.2" ry="1.2" transform="rotate(0 520.0 145.0)"/>
<ellipse cx="555.0" cy="136.0" rx="1.2" ry="1.2" transform="rotate(0 555.0 136.0)"/>
<ellipse cx="494.0" cy="189.0" rx="1.5" ry="1.2" transform="rotate(0 494.0 189.0)"/>
<ellipse cx="500.0" cy="210.0" rx="1.5" ry="2.0" transform="rotate(0 500.0 210.0)"/>
<ellipse cx="500.0" cy="219.0" rx="1.5" ry="2.5" transform="rotate(20 500.0 219.0)"/>
<ellipse cx="493.0" cy="237.0" rx="2.0" ry="1.2" transform="rotate(0 493.0 237.0)"/>
<ellipse cx="491.0" cy="245.0" rx="1.2" ry="1.0" transform="rotate(0 491.0 245.0)"/>
<ellipse cx="501.0" cy="245.0" rx="2.0" ry="1.8" transform="rotate(30 501.0 245.0)"/>
<ellipse cx="501.0" cy="233.0" rx="1.2" ry="1.5" transform="rotate(0 501.0 233.0)"/>
<ellipse cx="461.0" cy="160.0" rx="2.0" ry="1.5" transform="rotate(0 461.0 160.0)"/>
<ellipse cx="463.0" cy="165.0" rx="1.2" ry="1.2" transform="rotate(0 463.0 165.0)"/>
<ellipse cx="458.0" cy="163.0" rx="1.0" ry="1.0" transform="rotate(0 458.0 163.0)"/>
<ellipse cx="470.5" cy="366.0" rx="3.0" ry="3.0" transform="rotate(0 470.5 366.0)"/>
<ellipse cx="468.0" cy="364.0" rx="1.5" ry="1.5" transform="rotate(0 468.0 364.0)"/>
<ellipse cx="473.0" cy="368.0" rx="1.5" ry="1.5" transform="rotate(0 473.0 368.0)"/>
<ellipse cx="460.0" cy="381.0" rx="2.2" ry="5.0" transform="rotate(15 460.0 381.0)"/>
<ellipse cx="461.5" cy="376.0" rx="1.5" ry="2.0" transform="rotate(0 461.5 376.0)"/>
<ellipse cx="457.0" cy="392.0" rx="1.2" ry="1.2" transform="rotate(0 457.0 392.0)"/>
<ellipse cx="458.0" cy="386.0" rx="1.5" ry="2.5" transform="rotate(10 458.0 386.0)"/>
<ellipse cx="462.0" cy="372.0" rx="1.2" ry="1.5" transform="rotate(0 462.0 372.0)"/>
<ellipse cx="420.5" cy="432.0" rx="3.0" ry="5.0" transform="rotate(25 420.5 432.0)"/>
<ellipse cx="417.5" cy="437.0" rx="1.5" ry="1.5" transform="rotate(0 417.5 437.0)"/>
<ellipse cx="418.0" cy="449.0" rx="5.0" ry="3.0" transform="rotate(-20 418.0 449.0)"/>
<ellipse cx="413.0" cy="451.0" rx="1.5" ry="1.5" transform="rotate(0 413.0 451.0)"/>
<ellipse cx="424.0" cy="446.0" rx="1.5" ry="1.0" transform="rotate(0 424.0 446.0)"/>
<ellipse cx="233.0" cy="517.0" rx="5.5" ry="3.5" transform="rotate(-25 233.0 517.0)"/>
<ellipse cx="228.0" cy="520.0" rx="3.0" ry="1.5" transform="rotate(-30 228.0 520.0)"/>
<ellipse cx="240.0" cy="514.0" rx="2.0" ry="2.0" transform="rotate(0 240.0 514.0)"/>
<ellipse cx="200.0" cy="523.0" rx="1.2" ry="1.5" transform="rotate(0 200.0 523.0)"/>
<ellipse cx="203.5" cy="527.0" rx="1.2" ry="1.0" transform="rotate(0 203.5 527.0)"/>
<ellipse cx="206.5" cy="529.0" rx="1.2" ry="1.0" transform="rotate(0 206.5 529.0)"/>
<ellipse cx="241.0" cy="421.0" rx="2.0" ry="1.2" transform="rotate(-20 241.0 421.0)"/>
<ellipse cx="562.0" cy="509.0" rx="2.5" ry="3.0" transform="rotate(30 562.0 509.0)"/>
<ellipse cx="560.0" cy="517.0" rx="1.0" ry="1.0" transform="rotate(0 560.0 517.0)"/>
<ellipse cx="559.0" cy="522.0" rx="1.0" ry="1.5" transform="rotate(0 559.0 522.0)"/>
<ellipse cx="558.5" cy="527.0" rx="1.2" ry="1.2" transform="rotate(0 558.5 527.0)"/>
<ellipse cx="583.0" cy="498.0" rx="1.5" ry="4.0" transform="rotate(0 583.0 498.0)"/>
<ellipse cx="582.5" cy="506.0" rx="1.2" ry="1.5" transform="rotate(0 582.5 506.0)"/>
<ellipse cx="570.0" cy="403.0" rx="1.5" ry="4.0" transform="rotate(10 570.0 403.0)"/>
<ellipse cx="573.0" cy="406.0" rx="1.2" ry="2.0" transform="rotate(0 573.0 406.0)"/>
<ellipse cx="480.0" cy="378.0" rx="1.0" ry="1.0" transform="rotate(0 480.0 378.0)"/>
<ellipse cx="484.0" cy="376.0" rx="1.0" ry="1.2" transform="rotate(0 484.0 376.0)"/>
<ellipse cx="487.0" cy="380.0" rx="1.0" ry="1.0" transform="rotate(0 487.0 380.0)"/>
<ellipse cx="489.0" cy="384.0" rx="1.2" ry="1.2" transform="rotate(0 489.0 384.0)"/>
<ellipse cx="482.0" cy="382.0" rx="1.0" ry="1.0" transform="rotate(0 482.0 382.0)"/>
<ellipse cx="472.0" cy="389.0" rx="1.0" ry="1.0" transform="rotate(0 472.0 389.0)"/>
<ellipse cx="281.0" cy="392.0" rx="1.0" ry="1.0" transform="rotate(0 281.0 392.0)"/>
<ellipse cx="338.0" cy="280.0" rx="0.8" ry="0.8" transform="rotate(0 338.0 280.0)"/>
<ellipse cx="325.0" cy="288.0" rx="1.2" ry="0.8" transform="rotate(0 325.0 288.0)"/>
<ellipse cx="404.0" cy="285.0" rx="0.8" ry="0.8" transform="rotate(0 404.0 285.0)"/>
<ellipse cx="375.0" cy="388.0" rx="0.8" ry="0.8" transform="rotate(0 375.0 388.0)"/>
<ellipse cx="503.5" cy="357.5" rx="1.2" ry="2.8" transform="rotate(0 503.5 357.5)"/>
<ellipse cx="511.0" cy="359.0" rx="2.5" ry="1.5" transform="rotate(20 511.0 359.0)"/>
<ellipse cx="512.5" cy="390.5" rx="1.2" ry="2.0" transform="rotate(0 512.5 390.5)"/>
<ellipse cx="508.0" cy="364.0" rx="1.0" ry="1.0" transform="rotate(0 508.0 364.0)"/>
<ellipse cx="497.0" cy="349.0" rx="1.0" ry="1.0" transform="rotate(0 497.0 349.0)"/>
<ellipse cx="476.0" cy="474.0" rx="1.5" ry="1.0" transform="rotate(0 476.0 474.0)"/>
<ellipse cx="480.0" cy="472.0" rx="1.0" ry="1.0" transform="rotate(0 480.0 472.0)"/>
<ellipse cx="478.0" cy="477.0" rx="1.2" ry="1.0" transform="rotate(0 478.0 477.0)"/>
<ellipse cx="495.0" cy="463.0" rx="1.5" ry="1.0" transform="rotate(0 495.0 463.0)"/>
<ellipse cx="497.0" cy="459.0" rx="1.0" ry="1.0" transform="rotate(0 497.0 459.0)"/>
<ellipse cx="465.0" cy="483.0" rx="1.5" ry="1.0" transform="rotate(0 465.0 483.0)"/>
<ellipse cx="461.0" cy="485.0" rx="1.0" ry="1.0" transform="rotate(0 461.0 485.0)"/>
<ellipse cx="459.0" cy="489.0" rx="1.2" ry="1.2" transform="rotate(0 459.0 489.0)"/>
<ellipse cx="437.0" cy="452.0" rx="1.5" ry="1.0" transform="rotate(0 437.0 452.0)"/>
<ellipse cx="262.0" cy="498.0" rx="1.0" ry="1.0" transform="rotate(0 262.0 498.0)"/>
<ellipse cx="279.0" cy="521.0" rx="1.0" ry="1.5" transform="rotate(0 279.0 521.0)"/>
<ellipse cx="283.0" cy="526.0" rx="1.2" ry="0.8" transform="rotate(0 283.0 526.0)"/>
<ellipse cx="276.0" cy="524.0" rx="0.8" ry="0.8" transform="rotate(0 276.0 524.0)"/>
<ellipse cx="400.0" cy="40.0" rx="1.0" ry="0.6" transform="rotate(0 400.0 40.0)"/>
<ellipse cx="403.0" cy="48.0" rx="0.8" ry="0.6" transform="rotate(0 403.0 48.0)"/>
<ellipse cx="408.0" cy="56.0" rx="1.0" ry="0.8" transform="rotate(0 408.0 56.0)"/>
<ellipse cx="450.0" cy="47.0" rx="2.0" ry="0.8" transform="rotate(-20 450.0 47.0)"/>
<ellipse cx="529.0" cy="347.5" rx="2.5" ry="1.0" transform="rotate(40 529.0 347.5)"/>
<ellipse cx="532.0" cy="352.0" rx="2.0" ry="1.0" transform="rotate(45 532.0 352.0)"/>
<ellipse cx="203.0" cy="397.5" rx="1.5" ry="2.5" transform="rotate(0 203.0 397.5)"/>
<ellipse cx="497.0" cy="47.0" rx="2.5" ry="2.0" transform="rotate(0 497.0 47.0)"/>
<ellipse cx="495.0" cy="55.0" rx="2.0" ry="2.5" transform="rotate(0 495.0 55.0)"/>
<ellipse cx="492.0" cy="60.0" rx="2.0" ry="2.0" transform="rotate(0 492.0 60.0)"/>
<ellipse cx="497.0" cy="66.0" rx="2.0" ry="2.5" transform="rotate(0 497.0 66.0)"/>
<ellipse cx="488.0" cy="76.0" rx="2.5" ry="2.0" transform="rotate(0 488.0 76.0)"/>
<ellipse cx="482.0" cy="83.0" rx="2.0" ry="2.0" transform="rotate(0 482.0 83.0)"/>
<ellipse cx="476.0" cy="91.0" rx="2.0" ry="2.0" transform="rotate(0 476.0 91.0)"/>
<ellipse cx="466.0" cy="100.0" rx="3.0" ry="2.5" transform="rotate(0 466.0 100.0)"/>
<ellipse cx="463.0" cy="105.0" rx="3.0" ry="3.0" transform="rotate(0 463.0 105.0)"/>
<ellipse cx="466.0" cy="110.0" rx="2.5" ry="2.5" transform="rotate(0 466.0 110.0)"/>
<ellipse cx="460.0" cy="121.0" rx="2.5" ry="2.5" transform="rotate(0 460.0 121.0)"/>
<ellipse cx="455.0" cy="128.0" rx="2.5" ry="2.0" transform="rotate(0 455.0 128.0)"/>
<ellipse cx="449.0" cy="135.0" rx="2.5" ry="2.0" transform="rotate(0 449.0 135.0)"/>
<ellipse cx="440.0" cy="142.0" rx="2.5" ry="2.0" transform="rotate(0 440.0 142.0)"/>
<ellipse cx="430.0" cy="150.0" rx="2.0" ry="2.0" transform="rotate(0 430.0 150.0)"/>
<ellipse cx="424.0" cy="155.0" rx="2.0" ry="2.0" transform="rotate(0 424.0 155.0)"/>
<ellipse cx="418.0" cy="160.0" rx="2.0" ry="1.5" transform="rotate(0 418.0 160.0)"/>
<ellipse cx="358.0" cy="172.0" rx="1.5" ry="4.0" transform="rotate(0 358.0 172.0)"/>
<ellipse cx="365.0" cy="178.0" rx="3.0" ry="2.0" transform="rotate(0 365.0 178.0)"/>
<ellipse cx="353.0" cy="183.0" rx="2.0" ry="2.0" transform="rotate(0 353.0 183.0)"/>
<ellipse cx="349.0" cy="184.0" rx="1.5" ry="2.5" transform="rotate(0 349.0 184.0)"/>
<ellipse cx="345.0" cy="190.0" rx="2.0" ry="1.5" transform="rotate(0 345.0 190.0)"/>
<ellipse cx="372.0" cy="179.0" rx="2.0" ry="1.5" transform="rotate(0 372.0 179.0)"/>
<ellipse cx="407.0" cy="168.0" rx="2.0" ry="1.5" transform="rotate(0 407.0 168.0)"/>
<ellipse cx="250.0" cy="203.0" rx="6.0" ry="3.5" transform="rotate(-20 250.0 203.0)"/>
<ellipse cx="244.0" cy="208.0" rx="3.0" ry="3.0" transform="rotate(0 244.0 208.0)"/>
<ellipse cx="257.0" cy="199.0" rx="3.0" ry="2.0" transform="rotate(0 257.0 199.0)"/>
<ellipse cx="193.0" cy="551.0" rx="2.5" ry="2.0" transform="rotate(0 193.0 551.0)"/>
<ellipse cx="196.0" cy="554.0" rx="3.0" ry="3.0" transform="rotate(0 196.0 554.0)"/>
<ellipse cx="199.0" cy="552.0" rx="2.0" ry="2.0" transform="rotate(0 199.0 552.0)"/>
<ellipse cx="192.0" cy="556.0" rx="2.0" ry="2.5" transform="rotate(0 192.0 556.0)"/>
<ellipse cx="196.0" cy="559.0" rx="2.5" ry="2.0" transform="rotate(0 196.0 559.0)"/>
<ellipse cx="200.0" cy="557.0" rx="2.0" ry="2.0" transform="rotate(0 200.0 557.0)"/>
<ellipse cx="202.0" cy="562.0" rx="2.0" ry="2.5" transform="rotate(0 202.0 562.0)"/>
<ellipse cx="206.0" cy="560.0" rx="1.5" ry="1.5" transform="rotate(0 206.0 560.0)"/>
<ellipse cx="204.0" cy="566.0" rx="3.0" ry="2.5" transform="rotate(0 204.0 566.0)"/>
<ellipse cx="208.0" cy="564.0" rx="1.5" ry="2.0" transform="rotate(0 208.0 564.0)"/>
<ellipse cx="209.0" cy="568.0" rx="2.0" ry="1.5" transform="rotate(0 209.0 568.0)"/>
<ellipse cx="198.0" cy="565.0" rx="1.5" ry="2.0" transform="rotate(0 198.0 565.0)"/>
<ellipse cx="211.0" cy="556.0" rx="1.2" ry="1.2" transform="rotate(0 211.0 556.0)"/>
<ellipse cx="201.0" cy="548.0" rx="1.5" ry="1.0" transform="rotate(0 201.0 548.0)"/>
<ellipse cx="481.0" cy="466.0" rx="2.0" ry="1.5" transform="rotate(0 481.0 466.0)"/>
<ellipse cx="478.0" cy="468.0" rx="1.5" ry="1.5" transform="rotate(0 478.0 468.0)"/>
<ellipse cx="483.0" cy="470.0" rx="2.0" ry="1.2" transform="rotate(0 483.0 470.0)"/>
<ellipse cx="476.0" cy="472.0" rx="1.5" ry="1.0" transform="rotate(0 476.0 472.0)"/>
<ellipse cx="480.0" cy="476.0" rx="2.0" ry="1.5" transform="rotate(0 480.0 476.0)"/>
<ellipse cx="471.0" cy="480.0" rx="1.5" ry="1.2" transform="rotate(0 471.0 480.0)"/>
<ellipse cx="466.0" cy="482.0" rx="2.0" ry="1.2" transform="rotate(0 466.0 482.0)"/>
<ellipse cx="437.0" cy="498.0" rx="3.0" ry="2.0" transform="rotate(0 437.0 498.0)"/>
<ellipse cx="428.0" cy="504.0" rx="3.0" ry="3.0" transform="rotate(0 428.0 504.0)"/>
<ellipse cx="425.0" cy="510.0" rx="2.0" ry="3.0" transform="rotate(0 425.0 510.0)"/>
<ellipse cx="431.0" cy="496.0" rx="2.0" ry="1.5" transform="rotate(0 431.0 496.0)"/>
<ellipse cx="423.0" cy="517.0" rx="1.5" ry="2.0" transform="rotate(0 423.0 517.0)"/>
<ellipse cx="444.0" cy="520.0" rx="1.2" ry="1.0" transform="rotate(0 444.0 520.0)"/>
<ellipse cx="433.0" cy="535.0" rx="1.5" ry="1.0" transform="rotate(0 433.0 535.0)"/>
<ellipse cx="288.0" cy="352.0" rx="1.2" ry="2.0" transform="rotate(0 288.0 352.0)"/>
<ellipse cx="287.0" cy="360.0" rx="1.5" ry="1.5" transform="rotate(0 287.0 360.0)"/>
<ellipse cx="286.0" cy="367.0" rx="1.2" ry="2.0" transform="rotate(0 286.0 367.0)"/>
<ellipse cx="418.0" cy="453.0" rx="2.0" ry="1.5" transform="rotate(0 418.0 453.0)"/>
<ellipse cx="421.0" cy="456.0" rx="1.5" ry="1.5" transform="rotate(0 421.0 456.0)"/>
<ellipse cx="543.0" cy="371.0" rx="2.0" ry="1.5" transform="rotate(0 543.0 371.0)"/>
<ellipse cx="541.0" cy="375.0" rx="1.5" ry="2.0" transform="rotate(0 541.0 375.0)"/>
<ellipse cx="556.0" cy="383.0" rx="1.5" ry="2.0" transform="rotate(0 556.0 383.0)"/>
<ellipse cx="562.0" cy="397.0" rx="1.5" ry="2.5" transform="rotate(0 562.0 397.0)"/>
<ellipse cx="559.0" cy="402.0" rx="2.0" ry="2.0" transform="rotate(0 559.0 402.0)"/>
<ellipse cx="523.0" cy="355.0" rx="1.5" ry="1.0" transform="rotate(0 523.0 355.0)"/>
<ellipse cx="519.0" cy="350.0" rx="1.0" ry="1.0" transform="rotate(0 519.0 350.0)"/>
</g>
</g>
<g shape-rendering="crispEdges">
<rect x="112" y="37" width="526" height="533.5" fill="none" stroke="#000" stroke-width="2"/>
<g fill="#000"><rect x="130" y="38" width="1" height="5"/><rect x="130" y="565" width="1" height="5"/><rect x="164" y="38" width="1" height="5"/><rect x="164" y="565" width="1" height="5"/><rect x="198" y="38" width="1" height="5"/><rect x="198" y="565" width="1" height="5"/><rect x="232" y="38" width="1" height="5"/><rect x="232" y="565" width="1" height="5"/><rect x="266" y="38" width="1" height="5"/><rect x="266" y="565" width="1" height="5"/><rect x="299" y="38" width="1" height="5"/><rect x="299" y="565" width="1" height="5"/><rect x="333" y="38" width="1" height="5"/><rect x="333" y="565" width="1" height="5"/><rect x="367" y="38" width="1" height="5"/><rect x="367" y="565" width="1" height="5"/><rect x="401" y="38" width="1" height="5"/><rect x="401" y="565" width="1" height="5"/><rect x="435" y="38" width="1" height="5"/><rect x="435" y="565" width="1" height="5"/><rect x="468" y="38" width="1" height="5"/><rect x="468" y="565" width="1" height="5"/><rect x="502" y="38" width="1" height="5"/><rect x="502" y="565" width="1" height="5"/><rect x="536" y="38" width="1" height="5"/><rect x="536" y="565" width="1" height="5"/><rect x="570" y="38" width="1" height="5"/><rect x="570" y="565" width="1" height="5"/><rect x="604" y="38" width="1" height="5"/><rect x="604" y="565" width="1" height="5"/><rect x="637" y="38" width="1" height="5"/><rect x="637" y="565" width="1" height="5"/><rect x="113" y="571" width="5" height="1"/><rect x="632" y="571" width="5" height="1"/><rect x="113" y="537" width="5" height="1"/><rect x="632" y="537" width="5" height="1"/><rect x="113" y="503" width="5" height="1"/><rect x="632" y="503" width="5" height="1"/><rect x="113" y="469" width="5" height="1"/><rect x="632" y="469" width="5" height="1"/><rect x="113" y="435" width="5" height="1"/><rect x="632" y="435" width="5" height="1"/><rect x="113" y="401" width="5" height="1"/><rect x="632" y="401" width="5" height="1"/><rect x="113" y="366" width="5" height="1"/><rect x="632" y="366" width="5" height="1"/><rect x="113" y="332" width="5" height="1"/><rect x="632" y="332" width="5" height="1"/><rect x="113" y="297" width="5" height="1"/><rect x="632" y="297" width="5" height="1"/><rect x="113" y="261" width="5" height="1"/><rect x="632" y="261" width="5" height="1"/><rect x="113" y="225" width="5" height="1"/><rect x="632" y="225" width="5" height="1"/><rect x="113" y="189" width="5" height="1"/><rect x="632" y="189" width="5" height="1"/><rect x="113" y="152" width="5" height="1"/><rect x="632" y="152" width="5" height="1"/><rect x="113" y="115" width="5" height="1"/><rect x="632" y="115" width="5" height="1"/><rect x="113" y="77" width="5" height="1"/><rect x="632" y="77" width="5" height="1"/><rect x="113" y="39" width="5" height="1"/><rect x="632" y="39" width="5" height="1"/></g>
</g>
<g font-family="Liberation Sans, Arial, sans-serif">
<text x="375.5" y="19.7" font-size="13" text-anchor="middle" fill="#000044" textLength="254" lengthAdjust="spacingAndGlyphs">Significant Wave Height with Wave Direction</text>
<text x="375.5" y="31.8" font-size="12" font-style="italic" text-anchor="middle" fill="#000044" textLength="183" lengthAdjust="spacingAndGlyphs">Valid For Apr-25-2012 06:00 GMT</text>
<text x="133.9" y="588" font-size="10.8" font-style="italic" text-anchor="middle" fill="#000">100 E</text>
<text x="218.4" y="588" font-size="10.8" font-style="italic" text-anchor="middle" fill="#000">105 E</text>
<text x="302.9" y="588" font-size="10.8" font-style="italic" text-anchor="middle" fill="#000">110 E</text>
<text x="387.4" y="588" font-size="10.8" font-style="italic" text-anchor="middle" fill="#000">115 E</text>
<text x="471.9" y="588" font-size="10.8" font-style="italic" text-anchor="middle" fill="#000">120 E</text>
<text x="556.4" y="588" font-size="10.8" font-style="italic" text-anchor="middle" fill="#000">125 E</text>
<text x="640.9" y="588" font-size="10.8" font-style="italic" text-anchor="middle" fill="#000">130 E</text>
<text x="646" y="573.9" font-size="10.8" font-style="italic" fill="#000">0</text>
<text x="646" y="489.3" font-size="10.8" font-style="italic" fill="#000">5 N</text>
<text x="646" y="404.0" font-size="10.8" font-style="italic" fill="#000">10 N</text>
<text x="646" y="317.5" font-size="10.8" font-style="italic" fill="#000">15 N</text>
<text x="646" y="228.8" font-size="10.8" font-style="italic" fill="#000">20 N</text>
<text x="646" y="137.3" font-size="10.8" font-style="italic" fill="#000">25 N</text>
<text x="646" y="42.0" font-size="10.8" font-style="italic" fill="#000">30 N</text>
<text x="112.5" y="602" font-size="12" fill="#000044" textLength="127" lengthAdjust="spacingAndGlyphs">oceanweather inc.</text>
<text x="522" y="600" font-size="8.6" font-style="italic" fill="#000044" textLength="115" lengthAdjust="spacingAndGlyphs">Plotted at Apr 24, 2012 21:56 GMT</text>
<text x="375" y="613" font-size="9.6" text-anchor="middle" fill="#000044" textLength="139" lengthAdjust="spacingAndGlyphs">Significant Wave Height (Meters)</text>
<text x="375" y="663" font-size="9.6" text-anchor="middle" fill="#000044" textLength="129" lengthAdjust="spacingAndGlyphs">Significant Wave Height (Feet)</text>
<text x="256.5" y="626" font-size="9.6" text-anchor="middle" fill="#000044">0</text>
<text x="276.5" y="626" font-size="9.6" text-anchor="middle" fill="#000044">1</text>
<text x="296.5" y="626" font-size="9.6" text-anchor="middle" fill="#000044">2</text>
<text x="316.5" y="626" font-size="9.6" text-anchor="middle" fill="#000044">3</text>
<text x="336.5" y="626" font-size="9.6" text-anchor="middle" fill="#000044">4</text>
<text x="356.5" y="626" font-size="9.6" text-anchor="middle" fill="#000044">5</text>
<text x="376.5" y="626" font-size="9.6" text-anchor="middle" fill="#000044">6</text>
<text x="396.5" y="626" font-size="9.6" text-anchor="middle" fill="#000044">7</text>
<text x="416.5" y="626" font-size="9.6" text-anchor="middle" fill="#000044">8</text>
<text x="436.5" y="626" font-size="9.6" text-anchor="middle" fill="#000044">9</text>
<text x="456.5" y="626" font-size="9.6" text-anchor="middle" fill="#000044">10</text>
<text x="476.5" y="626" font-size="9.6" text-anchor="middle" fill="#000044">11</text>
<text x="496.5" y="626" font-size="9.6" text-anchor="middle" fill="#000044">12</text>
<text x="256.5" y="650.5" font-size="9.6" text-anchor="middle" fill="#000044">0</text>
<text x="286.5" y="650.5" font-size="9.6" text-anchor="middle" fill="#000044">5</text>
<text x="316.5" y="650.5" font-size="9.6" text-anchor="middle" fill="#000044">10</text>
<text x="346.5" y="650.5" font-size="9.6" text-anchor="middle" fill="#000044">15</text>
<text x="376.5" y="650.5" font-size="9.6" text-anchor="middle" fill="#000044">20</text>
<text x="406.5" y="650.5" font-size="9.6" text-anchor="middle" fill="#000044">25</text>
<text x="436.5" y="650.5" font-size="9.6" text-anchor="middle" fill="#000044">30</text>
<text x="466.5" y="650.5" font-size="9.6" text-anchor="middle" fill="#000044">35</text>
<text x="496.5" y="650.5" font-size="9.6" text-anchor="middle" fill="#000044">40</text>
</g>
<rect x="255" y="629" width="241" height="12.5" fill="url(#cb)" shape-rendering="crispEdges"/>
<rect x="255" y="629" width="2" height="12.5" fill="#000" shape-rendering="crispEdges"/>
</svg>
</body></html>
